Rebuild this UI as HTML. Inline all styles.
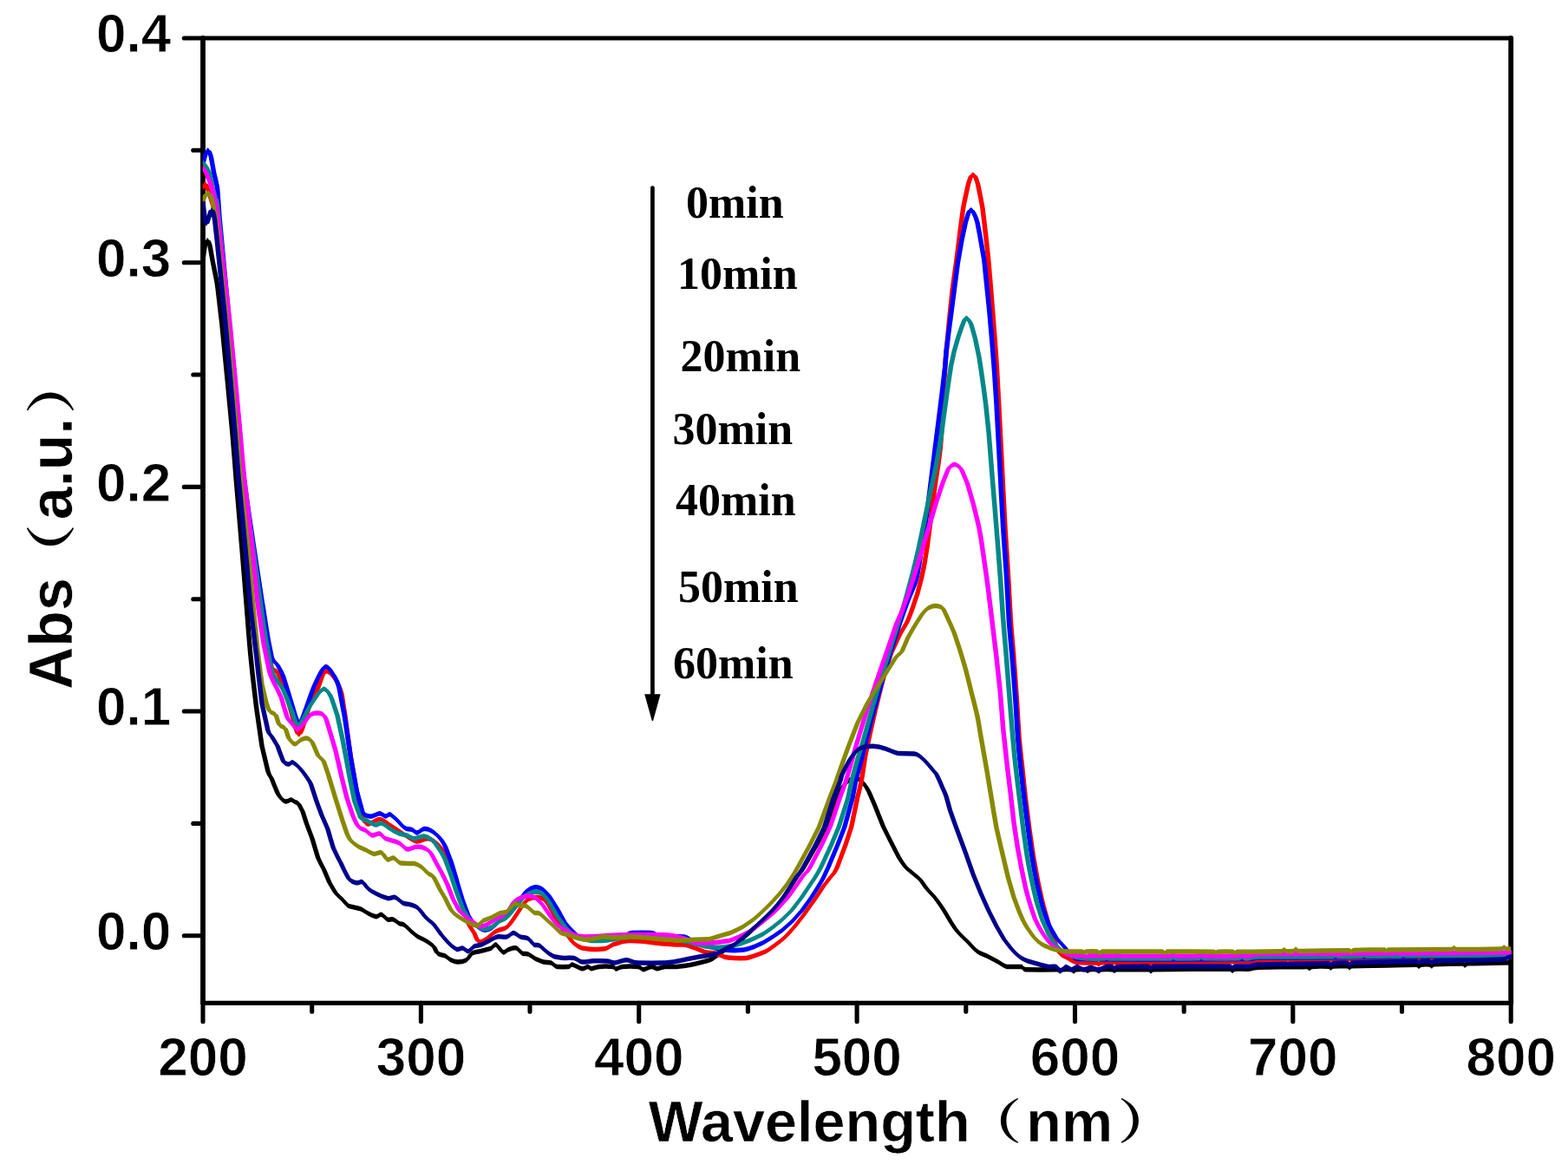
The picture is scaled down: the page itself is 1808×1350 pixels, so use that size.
<!DOCTYPE html>
<html lang="en">
<head>
<meta charset="utf-8">
<title>UV-Vis absorption spectra</title>
<style>
html,body{margin:0;padding:0;background:#fff;}
body{width:1808px;height:1350px;overflow:hidden;}
svg{display:block;}
text{fill:#000;}
.tick{font-family:"Liberation Sans",sans-serif;font-weight:bold;font-size:62px;stroke:#fff;stroke-width:0.8px;}
.title{font-family:"Liberation Sans",sans-serif;font-weight:bold;font-size:66.5px;stroke:#fff;stroke-width:0.6px;}
.vtitle{font-family:"Liberation Sans",sans-serif;font-weight:bold;font-size:68.2px;stroke:#fff;stroke-width:0.6px;}
.paren{font-family:"Liberation Serif","Noto Serif CJK SC",serif;font-weight:bold;}
.leg{font-family:"Liberation Serif",serif;font-weight:bold;font-size:52px;}
.c{fill:none;stroke-width:0.275;stroke-linejoin:round;stroke-linecap:round;}
.ax{stroke:#000;stroke-width:5.8;stroke-linecap:round;fill:none;}
.tk{stroke-width:5.1;}
</style>
</head>
<body>
<svg width="1808" height="1350" viewBox="0 0 1808 1350">
<rect x="0" y="0" width="1808" height="1350" fill="#fff"/>
<defs><clipPath id="plotclip"><rect x="233.7" y="44" width="1509.1" height="1112.3"/></clipPath></defs>
<g class="ax">
<path d="M234 44 V1156.3 M1742.2 44 V1156.3" stroke-width="5.8"/>
<path d="M234 44 H1742.2 M234 1156.3 H1742.2" stroke-width="5.2"/>
<line class="tk" x1="234" y1="1078.7" x2="212.3" y2="1078.7"/>
<line class="tk" x1="234" y1="949.4" x2="222.8" y2="949.4"/>
<line class="tk" x1="234" y1="820.0" x2="212.3" y2="820.0"/>
<line class="tk" x1="234" y1="690.7" x2="222.8" y2="690.7"/>
<line class="tk" x1="234" y1="561.4" x2="212.3" y2="561.4"/>
<line class="tk" x1="234" y1="432.0" x2="222.8" y2="432.0"/>
<line class="tk" x1="234" y1="302.7" x2="212.3" y2="302.7"/>
<line class="tk" x1="234" y1="173.3" x2="222.8" y2="173.3"/>
<line class="tk" x1="234" y1="44.0" x2="212.3" y2="44.0"/>
<line class="tk" x1="234.0" y1="1156.3" x2="234.0" y2="1177.7"/>
<line class="tk" x1="359.7" y1="1156.3" x2="359.7" y2="1166.2"/>
<line class="tk" x1="485.4" y1="1156.3" x2="485.4" y2="1177.7"/>
<line class="tk" x1="611.0" y1="1156.3" x2="611.0" y2="1166.2"/>
<line class="tk" x1="736.7" y1="1156.3" x2="736.7" y2="1177.7"/>
<line class="tk" x1="862.4" y1="1156.3" x2="862.4" y2="1166.2"/>
<line class="tk" x1="988.1" y1="1156.3" x2="988.1" y2="1177.7"/>
<line class="tk" x1="1113.8" y1="1156.3" x2="1113.8" y2="1166.2"/>
<line class="tk" x1="1239.5" y1="1156.3" x2="1239.5" y2="1177.7"/>
<line class="tk" x1="1365.2" y1="1156.3" x2="1365.2" y2="1166.2"/>
<line class="tk" x1="1490.8" y1="1156.3" x2="1490.8" y2="1177.7"/>
<line class="tk" x1="1616.5" y1="1156.3" x2="1616.5" y2="1166.2"/>
<line class="tk" x1="1742.2" y1="1156.3" x2="1742.2" y2="1177.7"/>
</g>
<g clip-path="url(#plotclip)">
<g stroke="#000000">
<path class="c" transform="scale(20 1)" d="M11.7 300C11.717 297.5 11.758 288.83 11.8 285C11.842 281.17 11.9 277.33 11.95 277C12 276.67 12.05 279.17 12.1 283C12.15 286.83 12.183 293 12.25 300C12.317 307 12.41 312.83 12.5 325C12.59 337.17 12.64 343.83 12.79 373C12.94 402.17 13.265 470.5 13.4 500C13.535 529.5 13.508 527.83 13.6 550C13.692 572.17 13.847 608 13.95 633C14.053 658 14.138 679.57 14.22 700C14.302 720.43 14.352 736.33 14.445 755.6C14.538 774.87 14.671 798.2 14.78 815.6C14.889 833 14.989 847.77 15.1 860C15.211 872.23 15.351 882.7 15.445 889C15.539 895.3 15.591 894.47 15.665 897.8C15.739 901.13 15.818 905.67 15.89 909C15.963 912.33 16.007 915.3 16.1 917.8C16.193 920.3 16.337 923.3 16.45 924C16.563 924.7 16.688 921.93 16.78 922C16.872 922.07 16.927 923.62 17 924.4C17.073 925.18 17.145 924.83 17.22 926.7C17.295 928.57 17.376 931.88 17.45 935.6C17.524 939.32 17.573 943.82 17.665 949C17.757 954.18 17.888 960.03 18 966.7C18.112 973.37 18.224 983.12 18.335 989C18.446 994.88 18.554 997.2 18.665 1002C18.776 1006.8 18.888 1013.3 19 1017.8C19.112 1022.3 19.205 1025.67 19.335 1029C19.465 1032.33 19.653 1035.23 19.78 1037.8C19.908 1040.37 19.933 1042.73 20.1 1044.4C20.267 1046.07 20.593 1046.37 20.78 1047.8C20.967 1049.23 21.073 1051.52 21.22 1053C21.367 1054.48 21.535 1056.47 21.665 1056.7C21.795 1056.93 21.888 1053.85 22 1054.4C22.112 1054.95 22.224 1059.07 22.335 1060C22.446 1060.93 22.554 1059.27 22.665 1060C22.776 1060.73 22.888 1063.28 23 1064.4C23.112 1065.52 23.224 1065.27 23.335 1066.7C23.446 1068.13 23.538 1070.78 23.665 1073C23.793 1075.22 23.953 1078.1 24.1 1080C24.248 1081.9 24.4 1082.57 24.55 1084.4C24.7 1086.23 24.888 1088.57 25 1091C25.112 1093.43 25.109 1097.17 25.22 1099C25.331 1100.83 25.535 1100.72 25.665 1102C25.795 1103.28 25.879 1105.53 26 1106.7C26.121 1107.87 26.242 1109 26.39 1109C26.538 1109 26.752 1108.37 26.89 1106.7C27.028 1105.03 27.091 1100.67 27.22 1099C27.349 1097.33 27.518 1097.47 27.665 1096.7C27.812 1095.93 27.988 1095.02 28.1 1094.4C28.212 1093.78 28.252 1093.9 28.335 1093C28.418 1092.1 28.489 1088.2 28.6 1089C28.711 1089.8 28.877 1096.9 29 1097.8C29.123 1098.7 29.205 1095.2 29.335 1094.4C29.465 1093.6 29.653 1092.23 29.78 1093C29.907 1093.77 29.988 1097.83 30.1 1099C30.212 1100.17 30.318 1098.9 30.45 1100C30.582 1101.1 30.742 1104.1 30.89 1105.6C31.038 1107.1 31.187 1108.27 31.335 1109C31.483 1109.73 31.653 1109.1 31.78 1110C31.907 1110.9 31.933 1113.67 32.1 1114.4C32.267 1115.13 32.63 1114.8 32.78 1114.4C32.93 1114 32.872 1111.62 33 1112C33.128 1112.38 33.402 1116.3 33.55 1116.7C33.698 1117.1 33.798 1114.4 33.89 1114.4C33.982 1114.4 33.99 1116.7 34.1 1116.7C34.21 1116.7 34.344 1114.78 34.55 1114.4C34.756 1114.02 35.177 1113.97 35.335 1114.4C35.493 1114.83 35.407 1117 35.5 1117C35.593 1117 35.677 1114.83 35.89 1114.4C36.103 1113.97 36.578 1113.83 36.78 1114.4C36.982 1114.97 36.972 1117.8 37.1 1117.8C37.228 1117.8 37.418 1114.58 37.55 1114.4C37.682 1114.22 37.759 1116.7 37.89 1116.7C38.021 1116.7 38.15 1114.78 38.335 1114.4C38.52 1114.02 38.75 1114.77 39 1114.4C39.25 1114.03 39.558 1113.22 39.835 1112.2C40.113 1111.18 40.453 1109.5 40.665 1108.3C40.877 1107.1 40.924 1107.13 41.11 1105C41.296 1102.87 41.576 1098 41.78 1095.5C41.984 1093 42.15 1092.42 42.335 1090C42.52 1087.58 42.705 1084.17 42.89 1081C43.075 1077.83 43.26 1074.33 43.445 1071C43.63 1067.67 43.815 1064.5 44 1061C44.185 1057.5 44.37 1054.07 44.555 1050C44.74 1045.93 44.943 1041.07 45.11 1036.6C45.277 1032.13 45.416 1027.47 45.555 1023.2C45.694 1018.93 45.808 1015.03 45.945 1011C46.082 1006.97 46.095 1008.62 46.375 999C46.655 989.38 47.317 966.3 47.625 953.3C47.933 940.3 48.071 928.55 48.225 921C48.379 913.45 48.446 911.33 48.55 908C48.654 904.67 48.75 902.67 48.85 901C48.95 899.33 49.046 898.5 49.15 898C49.254 897.5 49.37 897.17 49.475 898C49.58 898.83 49.676 900.5 49.78 903C49.884 905.5 49.976 908 50.1 913C50.224 918 50.388 926.33 50.525 933C50.663 939.67 50.783 946.67 50.925 953C51.067 959.33 51.225 965.08 51.375 971C51.525 976.92 51.675 983.5 51.825 988.5C51.975 993.5 52.079 996.92 52.275 1001C52.471 1005.08 52.804 1009 53 1013C53.196 1017 53.292 1021.17 53.45 1025C53.608 1028.83 53.783 1031.75 53.95 1036C54.117 1040.25 54.3 1045.83 54.45 1050.5C54.6 1055.17 54.722 1060.02 54.85 1064C54.978 1067.98 55.065 1070.8 55.22 1074.4C55.375 1078 55.594 1081.88 55.78 1085.6C55.966 1089.32 56.15 1093.97 56.335 1096.7C56.52 1099.43 56.688 1099.95 56.89 1102C57.093 1104.05 57.357 1106.93 57.55 1109C57.743 1111.07 57.827 1113.5 58.05 1114.4C58.273 1115.3 58.715 1113.83 58.89 1114.4C59.065 1114.97 58.89 1117.23 59.1 1117.8C59.443 1118.37 60.617 1117.47 60.95 1117.8C61.1 1118.13 61.05 1119.8 61.1 1119.8C61.15 1119.8 61.142 1118.13 61.25 1117.8C61.358 1117.47 61.642 1117.47 61.75 1117.8C61.858 1118.13 61.85 1119.8 61.9 1119.8C61.95 1119.8 61.942 1118.13 62.05 1117.8C62.158 1117.47 62.442 1117.55 62.55 1117.8C62.658 1118.05 62.65 1119.3 62.7 1119.3C62.75 1119.3 62.767 1118.05 62.85 1117.8C62.933 1117.55 63.117 1117.47 63.2 1117.8C63.283 1118.13 63.3 1119.8 63.35 1119.8C63.4 1119.8 63.375 1118.13 63.5 1117.8C63.625 1117.47 63.975 1117.55 64.1 1117.8C64.225 1118.05 64.2 1119.3 64.25 1119.3C64.3 1119.3 64.275 1118.05 64.4 1117.8C64.525 1117.55 64.7 1117.82 65 1117.8C65.3 1117.78 65.975 1117.38 66.2 1117.7C66.35 1118.01 66.3 1119.69 66.35 1119.68C66.4 1119.68 66.35 1118.07 66.5 1117.67C67.258 1117.27 70.142 1117.03 70.9 1117.29C71.05 1117.56 71 1119.29 71.05 1119.28C71.1 1119.28 71.067 1117.61 71.2 1117.27C71.333 1116.92 71.717 1117.22 71.85 1117.21C71.983 1117.2 71.95 1117.29 72 1117.2C72.05 1117.11 72.05 1117.03 72.15 1116.7C72.25 1116.37 72.15 1115.53 72.6 1115.2C73.075 1114.87 74.542 1114.8 75 1114.7C75.35 1114.6 75.267 1114.28 75.35 1114.58C75.433 1114.89 75.45 1116.55 75.5 1116.53C75.55 1116.51 75.5 1114.87 75.65 1114.48C75.83 1114.08 76.4 1113.89 76.58 1114.16C76.73 1114.43 76.68 1116.13 76.73 1116.11C76.78 1116.09 76.73 1114.45 76.88 1114.06C77.033 1113.68 77.497 1113.52 77.65 1113.8C77.8 1114.08 77.75 1115.77 77.8 1115.75C77.85 1115.73 77.8 1114.16 77.95 1113.7C78.317 1113.24 79.383 1113.24 80 1113C80.617 1112.76 81.35 1112.07 81.65 1112.27C81.8 1112.48 81.75 1114.23 81.8 1114.21C81.85 1114.19 81.85 1112.52 81.95 1112.14C82.05 1111.76 82.3 1111.65 82.4 1111.94C82.5 1112.23 82.5 1113.9 82.55 1113.88C82.6 1113.86 82.55 1112.27 82.7 1111.81C82.992 1111.35 84.008 1110.9 84.3 1111.11C84.45 1111.31 84.4 1113.06 84.45 1113.04C84.5 1113.02 84.508 1111.35 84.6 1110.98C84.692 1110.6 84.6 1111.01 85 1110.8C85.425 1110.59 86.792 1109.88 87.15 1109.7"/>
<path class="c" transform="scale(1 20)" d="M234 15C234.33 14.875 235.17 14.442 236 14.25C236.83 14.058 238 13.867 239 13.85C240 13.833 241 13.958 242 14.15C243 14.342 243.67 14.65 245 15C246.33 15.35 248.2 15.642 250 16.25C251.8 16.858 252.8 17.192 255.8 18.65C258.8 20.108 265.3 23.525 268 25C270.7 26.475 270.17 26.392 272 27.5C273.83 28.608 276.93 30.4 279 31.65C281.07 32.9 282.75 33.978 284.4 35C286.05 36.022 287.03 36.817 288.9 37.78C290.77 38.743 293.42 39.91 295.6 40.78C297.78 41.65 299.78 42.388 302 43C304.22 43.612 307.02 44.135 308.9 44.45C310.78 44.765 311.82 44.723 313.3 44.89C314.78 45.057 316.35 45.283 317.8 45.45C319.25 45.617 320.13 45.765 322 45.89C323.87 46.015 326.73 46.165 329 46.2C331.27 46.235 333.77 46.097 335.6 46.1C337.43 46.103 338.53 46.181 340 46.22C341.47 46.259 342.9 46.242 344.4 46.335C345.9 46.428 347.52 46.594 349 46.78C350.48 46.966 351.47 47.191 353.3 47.45C355.13 47.709 357.77 48.002 360 48.335C362.23 48.668 364.48 49.156 366.7 49.45C368.92 49.744 371.08 49.86 373.3 50.1C375.52 50.34 377.77 50.665 380 50.89C382.23 51.115 384.1 51.283 386.7 51.45C389.3 51.617 393.05 51.762 395.6 51.89C398.15 52.018 398.67 52.137 402 52.22C405.33 52.303 411.87 52.318 415.6 52.39C419.33 52.462 421.45 52.576 424.4 52.65C427.35 52.724 430.7 52.823 433.3 52.835C435.9 52.847 437.77 52.693 440 52.72C442.23 52.748 444.48 52.953 446.7 53C448.92 53.047 451.08 52.963 453.3 53C455.52 53.037 457.77 53.164 460 53.22C462.23 53.276 464.48 53.263 466.7 53.335C468.92 53.407 470.75 53.539 473.3 53.65C475.85 53.761 479.05 53.905 482 54C484.95 54.095 488 54.128 491 54.22C494 54.312 497.77 54.428 500 54.55C502.23 54.672 502.18 54.858 504.4 54.95C506.62 55.042 510.7 55.036 513.3 55.1C515.9 55.164 517.58 55.277 520 55.335C522.42 55.393 524.83 55.45 527.8 55.45C530.77 55.45 535.03 55.418 537.8 55.335C540.57 55.252 541.82 55.033 544.4 54.95C546.98 54.867 550.37 54.873 553.3 54.835C556.23 54.797 559.77 54.751 562 54.72C564.23 54.689 565.03 54.695 566.7 54.65C568.37 54.605 569.78 54.41 572 54.45C574.22 54.49 577.55 54.845 580 54.89C582.45 54.935 584.1 54.76 586.7 54.72C589.3 54.68 593.05 54.612 595.6 54.65C598.15 54.688 599.77 54.892 602 54.95C604.23 55.008 606.37 54.945 609 55C611.63 55.055 614.85 55.205 617.8 55.28C620.75 55.355 623.73 55.413 626.7 55.45C629.67 55.487 633.05 55.455 635.6 55.5C638.15 55.545 638.67 55.683 642 55.72C645.33 55.757 652.6 55.74 655.6 55.72C658.6 55.7 657.43 55.581 660 55.6C662.57 55.619 668.03 55.815 671 55.835C673.97 55.855 675.97 55.72 677.8 55.72C679.63 55.72 679.8 55.835 682 55.835C684.2 55.835 686.88 55.739 691 55.72C695.12 55.701 703.53 55.698 706.7 55.72C709.87 55.742 708.15 55.85 710 55.85C711.85 55.85 713.53 55.742 717.8 55.72C722.07 55.698 731.57 55.692 735.6 55.72C739.63 55.748 739.43 55.89 742 55.89C744.57 55.89 748.37 55.729 751 55.72C753.63 55.711 755.18 55.835 757.8 55.835C760.42 55.835 763 55.739 766.7 55.72C770.4 55.701 775 55.738 780 55.72C785 55.702 791.15 55.661 796.7 55.61C802.25 55.559 809.05 55.475 813.3 55.415C817.55 55.355 818.48 55.357 822.2 55.25C825.92 55.143 831.52 54.9 835.6 54.775C839.68 54.65 843 54.621 846.7 54.5C850.4 54.379 854.1 54.208 857.8 54.05C861.5 53.892 865.2 53.717 868.9 53.55C872.6 53.383 876.3 53.225 880 53.05C883.7 52.875 887.4 52.703 891.1 52.5C894.8 52.297 898.87 52.053 902.2 51.83C905.53 51.607 908.32 51.373 911.1 51.16C913.88 50.947 916.17 50.752 918.9 50.55C921.63 50.348 921.9 50.431 927.5 49.95C933.1 49.469 946.33 48.315 952.5 47.665C958.67 47.015 961.42 46.428 964.5 46.05C967.58 45.673 968.92 45.567 971 45.4C973.08 45.233 975 45.133 977 45.05C979 44.967 980.92 44.925 983 44.9C985.08 44.875 987.4 44.858 989.5 44.9C991.6 44.942 993.52 45.025 995.6 45.15C997.68 45.275 999.52 45.4 1002 45.65C1004.48 45.9 1007.75 46.317 1010.5 46.65C1013.25 46.983 1015.67 47.333 1018.5 47.65C1021.33 47.967 1024.5 48.254 1027.5 48.55C1030.5 48.846 1033.5 49.175 1036.5 49.425C1039.5 49.675 1041.58 49.846 1045.5 50.05C1049.42 50.254 1056.08 50.45 1060 50.65C1063.92 50.85 1065.83 51.058 1069 51.25C1072.17 51.442 1075.67 51.588 1079 51.8C1082.33 52.013 1086 52.292 1089 52.525C1092 52.758 1094.43 53.001 1097 53.2C1099.57 53.399 1101.3 53.54 1104.4 53.72C1107.5 53.9 1111.88 54.094 1115.6 54.28C1119.32 54.466 1123 54.698 1126.7 54.835C1130.4 54.972 1133.75 54.998 1137.8 55.1C1141.85 55.203 1147.13 55.347 1151 55.45C1154.87 55.553 1156.53 55.675 1161 55.72C1165.47 55.765 1174.3 55.692 1177.8 55.72C1181.3 55.748 1177.8 55.862 1182 55.89C1188.87 55.918 1212.33 55.873 1219 55.89C1222 55.907 1221 55.99 1222 55.99C1223 55.99 1222.83 55.907 1225 55.89C1227.17 55.873 1232.83 55.873 1235 55.89C1237.17 55.907 1237 55.99 1238 55.99C1239 55.99 1238.83 55.907 1241 55.89C1243.17 55.873 1248.83 55.877 1251 55.89C1253.17 55.903 1253 55.965 1254 55.965C1255 55.965 1255.33 55.903 1257 55.89C1258.67 55.877 1262.33 55.873 1264 55.89C1265.67 55.907 1266 55.99 1267 55.99C1268 55.99 1267.5 55.907 1270 55.89C1272.5 55.873 1279.5 55.877 1282 55.89C1284.5 55.903 1284 55.965 1285 55.965C1286 55.965 1285.5 55.903 1288 55.89C1290.5 55.877 1294 55.891 1300 55.89C1306 55.889 1319.5 55.869 1324 55.885C1327 55.901 1326 55.984 1327 55.984C1328 55.984 1327 55.903 1330 55.884C1345.17 55.864 1402.83 55.851 1418 55.865C1421 55.878 1420 55.964 1421 55.964C1422 55.964 1421.33 55.881 1424 55.863C1426.67 55.846 1434.33 55.861 1437 55.861C1439.67 55.86 1439 55.864 1440 55.86C1441 55.856 1441 55.852 1443 55.835C1445 55.818 1443 55.777 1452 55.76C1461.5 55.743 1490.83 55.74 1500 55.735C1507 55.73 1505.33 55.714 1507 55.729C1508.67 55.744 1509 55.827 1510 55.827C1511 55.826 1510 55.744 1513 55.724C1516.6 55.704 1528 55.695 1531.6 55.708C1534.6 55.722 1533.6 55.806 1534.6 55.806C1535.6 55.805 1534.6 55.722 1537.6 55.703C1540.67 55.684 1549.93 55.676 1553 55.69C1556 55.704 1555 55.788 1556 55.787C1557 55.787 1556 55.708 1559 55.685C1566.33 55.662 1587.67 55.662 1600 55.65C1612.33 55.638 1627 55.604 1633 55.614C1636 55.624 1635 55.712 1636 55.71C1637 55.709 1637 55.626 1639 55.607C1641 55.588 1646 55.583 1648 55.597C1650 55.612 1650 55.695 1651 55.694C1652 55.693 1651 55.614 1654 55.591C1659.83 55.568 1680.17 55.545 1686 55.555C1689 55.566 1688 55.653 1689 55.652C1690 55.651 1690.17 55.567 1692 55.549C1693.83 55.53 1692 55.551 1700 55.54C1708.5 55.529 1735.83 55.494 1743 55.485"/>
</g>
<g stroke="#ff0000">
<path class="c" transform="scale(20 1)" d="M11.7 217C11.721 216.13 11.783 211.97 11.825 211.8C11.867 211.63 11.908 213.97 11.95 216C11.992 218.03 12.025 220.83 12.075 224C12.125 227.17 12.196 231.5 12.25 235C12.304 238.5 12.35 241.5 12.4 245C12.45 248.5 12.425 234.67 12.55 256C12.675 277.33 12.95 332.33 13.15 373C13.35 413.67 13.608 470.5 13.75 500C13.892 529.5 13.858 527.83 14 550C14.142 572.17 14.429 609.67 14.6 633C14.771 656.33 14.942 678.83 15.025 690C15.1 701.17 15.038 691.67 15.1 700C15.163 708.33 15.308 728.5 15.4 740C15.492 751.5 15.55 763.17 15.65 769C15.75 774.83 15.886 771.5 16 775C16.114 778.5 16.205 782.5 16.335 790C16.465 797.5 16.633 810.55 16.78 820C16.928 829.45 17.073 845.87 17.22 846.7C17.367 847.53 17.553 830.95 17.665 825C17.777 819.05 17.778 816.33 17.89 811C18.002 805.67 18.197 799.1 18.335 793C18.473 786.9 18.573 776.57 18.72 774.4C18.867 772.23 19.062 776.1 19.22 780C19.377 783.9 19.553 790.4 19.665 797.8C19.777 805.2 19.798 811.87 19.89 824.4C19.983 836.93 20.11 858.57 20.22 873C20.33 887.43 20.438 899.83 20.55 911C20.662 922.17 20.782 933.5 20.89 940C20.998 946.5 21.033 949.27 21.2 950C21.367 950.73 21.665 944.07 21.89 944.4C22.115 944.73 22.328 949.23 22.55 952C22.772 954.77 22.978 958 23.22 961C23.462 964 23.759 969.05 24 970C24.241 970.95 24.462 966.2 24.665 966.7C24.868 967.2 25.053 969.95 25.22 973C25.387 976.05 25.535 980.5 25.665 985C25.795 989.5 25.888 993.83 26 1000C26.112 1006.17 26.224 1014.5 26.335 1022C26.446 1029.5 26.554 1037.93 26.665 1045C26.776 1052.07 26.888 1059.3 27 1064.4C27.112 1069.5 27.235 1072.07 27.335 1075.6C27.435 1079.13 27.489 1084.37 27.6 1085.6C27.711 1086.83 27.858 1084.67 28 1083C28.142 1081.33 28.32 1077.43 28.45 1075.6C28.58 1073.77 28.652 1073.1 28.78 1072C28.908 1070.9 29.073 1071.37 29.22 1069C29.367 1066.63 29.518 1061.9 29.665 1057.8C29.812 1053.7 29.969 1047.92 30.1 1044.4C30.231 1040.88 30.318 1038.37 30.45 1036.7C30.582 1035.03 30.748 1034.52 30.89 1034.4C31.032 1034.28 31.173 1034.4 31.3 1036C31.427 1037.6 31.533 1040.5 31.65 1044C31.767 1047.5 31.886 1052.83 32 1057C32.114 1061.17 32.205 1065.17 32.335 1069C32.465 1072.83 32.653 1076.87 32.78 1080C32.907 1083.13 32.972 1085.63 33.1 1087.8C33.228 1089.97 33.363 1091.9 33.55 1093C33.737 1094.1 33.997 1094.27 34.22 1094.4C34.443 1094.53 34.704 1094.7 34.89 1093.8C35.076 1092.9 35.225 1090 35.335 1089C35.445 1088 35.458 1088.37 35.55 1087.8C35.643 1087.23 35.759 1086.17 35.89 1085.6C36.021 1085.03 36.113 1084.4 36.335 1084.4C36.557 1084.4 36.926 1085.03 37.22 1085.6C37.514 1086.17 37.803 1087.25 38.1 1087.8C38.397 1088.35 38.758 1088.63 39 1088.9C39.243 1089.17 39.37 1088.67 39.555 1089.4C39.74 1090.13 39.925 1091.9 40.11 1093.3C40.295 1094.7 40.48 1096.87 40.665 1097.8C40.85 1098.73 41.034 1097.98 41.22 1098.9C41.406 1099.82 41.594 1102.38 41.78 1103.3C41.966 1104.22 42.123 1104.22 42.335 1104.4C42.548 1104.58 42.843 1104.95 43.055 1104.4C43.268 1103.85 43.425 1102.38 43.61 1101.1C43.795 1099.82 43.98 1098.73 44.165 1096.7C44.35 1094.67 44.534 1091.68 44.72 1088.9C44.906 1086.12 45.094 1083.52 45.28 1080C45.466 1076.48 45.65 1072.25 45.835 1067.8C46.02 1063.35 46.205 1058.3 46.39 1053.3C46.575 1048.3 46.76 1043.17 46.945 1037.8C47.13 1032.43 47.343 1025.55 47.5 1021.1C47.657 1016.65 47.76 1014.78 47.89 1011.1C48.02 1007.42 48.081 1008.63 48.28 999C48.479 989.37 48.893 966.47 49.085 953.3C49.277 940.13 49.333 928.88 49.43 920C49.527 911.12 49.588 908.17 49.665 900C49.742 891.83 49.759 884.33 49.89 871C50.021 857.67 50.283 834.43 50.45 820C50.617 805.57 50.742 795.13 50.89 784.4C51.038 773.67 51.168 764.5 51.335 755.6C51.502 746.7 51.733 737.3 51.89 731C52.047 724.7 52.17 722.23 52.28 717.8C52.39 713.37 52.448 709.97 52.55 704.4C52.652 698.83 52.778 692.17 52.89 684.4C53.002 676.63 53.127 666.7 53.22 657.8C53.313 648.9 53.376 641 53.45 631C53.524 621 53.592 609.3 53.665 597.8C53.738 586.3 53.797 575.7 53.89 562C53.983 548.3 54.143 530.93 54.22 515.6C54.297 500.27 54.303 485.93 54.35 470C54.397 454.07 54.438 436.67 54.5 420C54.562 403.33 54.654 384.67 54.725 370C54.796 355.33 54.854 343.77 54.925 332C54.996 320.23 55.075 310.9 55.15 299.4C55.225 287.9 55.311 272.97 55.375 263C55.439 253.03 55.483 246.03 55.535 239.6C55.588 233.17 55.642 229 55.69 224.4C55.738 219.8 55.782 215.32 55.825 212C55.868 208.68 55.904 206.25 55.95 204.5C55.996 202.75 56.05 201.5 56.1 201.5C56.15 201.5 56.204 202.75 56.25 204.5C56.296 206.25 56.333 208.68 56.375 212C56.417 215.32 56.455 219.8 56.5 224.4C56.545 229 56.591 232 56.645 239.6C56.699 247.2 56.768 260.03 56.825 270C56.882 279.97 56.927 286.9 56.985 299.4C57.043 311.9 57.114 329.9 57.175 345C57.236 360.1 57.3 376.57 57.35 390C57.4 403.43 57.433 411.93 57.475 425.6C57.517 439.27 57.554 454.43 57.6 472C57.646 489.57 57.692 508.17 57.75 531C57.808 553.83 57.888 586.83 57.95 609C58.013 631.17 58.071 645.83 58.125 664C58.179 682.17 58.225 703.17 58.275 718C58.325 732.83 58.367 737.83 58.425 753C58.483 768.17 58.571 792.83 58.625 809C58.679 825.17 58.7 837.67 58.75 850C58.8 862.33 58.863 871.17 58.925 883C58.988 894.83 59.054 908.72 59.125 921C59.196 933.28 59.275 945.57 59.35 956.7C59.425 967.83 59.496 978.08 59.575 987.8C59.654 997.52 59.738 1006.3 59.825 1015C59.913 1023.7 59.996 1031.67 60.1 1040C60.204 1048.33 60.333 1057.5 60.45 1065C60.567 1072.5 60.692 1079.33 60.8 1085C60.908 1090.67 60.975 1095.77 61.1 1099C61.225 1102.23 61.4 1102.73 61.55 1104.4C61.7 1106.07 61.814 1108.07 62 1109C62.186 1109.93 62.465 1109.85 62.665 1110C62.865 1110.15 63.086 1109.58 63.2 1109.89C63.314 1110.19 63.3 1111.86 63.35 1111.85C63.4 1111.84 63.35 1110.21 63.5 1109.82C63.775 1109.43 64.55 1109.58 65 1109.5C65.45 1109.42 65.975 1109.17 66.2 1109.35C66.35 1109.52 66.3 1110.53 66.35 1110.53C66.4 1110.52 66.35 1109.63 66.5 1109.31C67.442 1108.99 70.983 1108.98 72 1108.6C72.6 1108.22 72.25 1107.33 72.6 1107C72.95 1106.67 73.825 1106.89 74.1 1106.62C74.25 1106.36 74.2 1105.4 74.25 1105.39C74.3 1105.38 74.275 1106.38 74.4 1106.55C74.525 1106.72 74.425 1106.56 75 1106.4C75.575 1106.24 77.35 1105.49 77.85 1105.6C78 1105.71 77.95 1107.07 78 1107.06C78.05 1107.05 78 1105.86 78.15 1105.52C78.483 1105.17 79.3 1105.2 80 1105C80.7 1104.8 81.933 1104.21 82.35 1104.34C82.5 1104.48 82.45 1105.81 82.5 1105.8C82.55 1105.79 82.5 1104.73 82.65 1104.26C83.425 1103.79 86.4 1103.21 87.15 1103"/>
<path class="c" transform="scale(1 20)" d="M234 10.85C234.42 10.807 235.67 10.598 236.5 10.59C237.33 10.582 238.17 10.698 239 10.8C239.83 10.902 240.5 11.042 241.5 11.2C242.5 11.358 243.92 11.575 245 11.75C246.08 11.925 247 12.075 248 12.25C249 12.425 248.5 11.733 251 12.8C253.5 13.867 259 16.617 263 18.65C267 20.683 272.17 23.525 275 25C277.83 26.475 277.17 26.392 280 27.5C282.83 28.608 288.58 30.483 292 31.65C295.42 32.817 298.83 33.942 300.5 34.5C302 35.058 300.75 34.583 302 35C303.25 35.417 306.17 36.425 308 37C309.83 37.575 311 38.158 313 38.45C315 38.742 317.72 38.575 320 38.75C322.28 38.925 324.1 39.125 326.7 39.5C329.3 39.875 332.65 40.528 335.6 41C338.55 41.473 341.45 42.293 344.4 42.335C347.35 42.377 351.07 41.548 353.3 41.25C355.53 40.953 355.57 40.817 357.8 40.55C360.03 40.283 363.93 39.955 366.7 39.65C369.47 39.345 371.45 38.828 374.4 38.72C377.35 38.612 381.25 38.805 384.4 39C387.55 39.195 391.07 39.52 393.3 39.89C395.53 40.26 395.95 40.593 397.8 41.22C399.65 41.847 402.2 42.928 404.4 43.65C406.6 44.372 408.77 44.992 411 45.55C413.23 46.108 415.63 46.675 417.8 47C419.97 47.325 420.67 47.463 424 47.5C427.33 47.537 433.3 47.203 437.8 47.22C442.3 47.237 446.57 47.462 451 47.6C455.43 47.738 459.57 47.9 464.4 48.05C469.23 48.2 475.18 48.453 480 48.5C484.82 48.548 489.23 48.31 493.3 48.335C497.37 48.36 501.07 48.498 504.4 48.65C507.73 48.803 510.7 49.025 513.3 49.25C515.9 49.475 517.77 49.692 520 50C522.23 50.308 524.48 50.725 526.7 51.1C528.92 51.475 531.08 51.897 533.3 52.25C535.52 52.603 537.77 52.965 540 53.22C542.23 53.475 544.7 53.603 546.7 53.78C548.7 53.957 549.78 54.218 552 54.28C554.22 54.342 557.17 54.233 560 54.15C562.83 54.067 566.4 53.872 569 53.78C571.6 53.688 573.03 53.655 575.6 53.6C578.17 53.545 581.45 53.568 584.4 53.45C587.35 53.332 590.37 53.095 593.3 52.89C596.23 52.685 599.38 52.396 602 52.22C604.62 52.044 606.37 51.918 609 51.835C611.63 51.752 614.97 51.726 617.8 51.72C620.63 51.714 623.47 51.72 626 51.8C628.53 51.88 630.67 52.025 633 52.2C635.33 52.375 637.72 52.642 640 52.85C642.28 53.058 644.1 53.258 646.7 53.45C649.3 53.642 653.05 53.843 655.6 54C658.15 54.157 659.43 54.282 662 54.39C664.57 54.498 667.27 54.595 671 54.65C674.73 54.705 679.93 54.713 684.4 54.72C688.87 54.727 694.08 54.735 697.8 54.69C701.52 54.645 704.5 54.5 706.7 54.45C708.9 54.4 709.15 54.418 711 54.39C712.85 54.362 715.18 54.308 717.8 54.28C720.42 54.252 722.27 54.22 726.7 54.22C731.13 54.22 738.52 54.252 744.4 54.28C750.28 54.308 756.07 54.363 762 54.39C767.93 54.417 775.15 54.432 780 54.445C784.85 54.458 787.4 54.433 791.1 54.47C794.8 54.507 798.5 54.595 802.2 54.665C805.9 54.735 809.6 54.843 813.3 54.89C817 54.937 820.68 54.899 824.4 54.945C828.12 54.991 831.88 55.119 835.6 55.165C839.32 55.211 842.45 55.211 846.7 55.22C850.95 55.229 856.85 55.248 861.1 55.22C865.35 55.193 868.5 55.119 872.2 55.055C875.9 54.991 879.6 54.937 883.3 54.835C887 54.733 890.68 54.584 894.4 54.445C898.12 54.306 901.88 54.176 905.6 54C909.32 53.824 913 53.613 916.7 53.39C920.4 53.167 924.1 52.915 927.8 52.665C931.5 52.415 935.2 52.158 938.9 51.89C942.6 51.622 946.85 51.278 950 51.055C953.15 50.833 955.2 50.739 957.8 50.555C960.4 50.371 961.62 50.432 965.6 49.95C969.58 49.468 977.87 48.323 981.7 47.665C985.53 47.007 986.67 46.444 988.6 46C990.53 45.556 991.77 45.408 993.3 45C994.83 44.592 995.18 44.217 997.8 43.55C1000.42 42.883 1005.67 41.722 1009 41C1012.33 40.278 1014.85 39.757 1017.8 39.22C1020.75 38.683 1023.37 38.225 1026.7 37.78C1030.03 37.335 1034.65 36.865 1037.8 36.55C1040.95 36.235 1043.4 36.112 1045.6 35.89C1047.8 35.668 1048.97 35.498 1051 35.22C1053.03 34.942 1055.57 34.608 1057.8 34.22C1060.03 33.832 1062.53 33.335 1064.4 32.89C1066.27 32.445 1067.52 32.05 1069 31.55C1070.48 31.05 1071.83 30.465 1073.3 29.89C1074.77 29.315 1075.95 28.785 1077.8 28.1C1079.65 27.415 1082.87 26.547 1084.4 25.78C1085.93 25.013 1086.07 24.297 1087 23.5C1087.93 22.703 1088.75 21.833 1090 21C1091.25 20.167 1093.08 19.233 1094.5 18.5C1095.92 17.767 1097.08 17.188 1098.5 16.6C1099.92 16.012 1101.5 15.545 1103 14.97C1104.5 14.395 1106.22 13.648 1107.5 13.15C1108.78 12.652 1109.65 12.302 1110.7 11.98C1111.75 11.658 1112.83 11.45 1113.8 11.22C1114.77 10.99 1115.63 10.766 1116.5 10.6C1117.37 10.434 1118.08 10.312 1119 10.225C1119.92 10.138 1121 10.075 1122 10.075C1123 10.075 1124.08 10.138 1125 10.225C1125.92 10.312 1126.67 10.434 1127.5 10.6C1128.33 10.766 1129.1 10.99 1130 11.22C1130.9 11.45 1131.82 11.6 1132.9 11.98C1133.98 12.36 1135.37 13.002 1136.5 13.5C1137.63 13.998 1138.53 14.345 1139.7 14.97C1140.87 15.595 1142.28 16.495 1143.5 17.25C1144.72 18.005 1146 18.828 1147 19.5C1148 20.172 1148.67 20.597 1149.5 21.28C1150.33 21.963 1151.08 22.722 1152 23.6C1152.92 24.478 1153.83 25.408 1155 26.55C1156.17 27.692 1157.75 29.342 1159 30.45C1160.25 31.558 1161.42 32.292 1162.5 33.2C1163.58 34.108 1164.5 35.158 1165.5 35.9C1166.5 36.642 1167.33 36.892 1168.5 37.65C1169.67 38.408 1171.42 39.642 1172.5 40.45C1173.58 41.258 1174 41.883 1175 42.5C1176 43.117 1177.25 43.558 1178.5 44.15C1179.75 44.742 1181.08 45.436 1182.5 46.05C1183.92 46.664 1185.5 47.278 1187 47.835C1188.5 48.392 1189.92 48.904 1191.5 49.39C1193.08 49.876 1194.75 50.315 1196.5 50.75C1198.25 51.185 1199.92 51.583 1202 52C1204.08 52.417 1206.67 52.875 1209 53.25C1211.33 53.625 1213.83 53.967 1216 54.25C1218.17 54.533 1219.5 54.788 1222 54.95C1224.5 55.112 1228 55.137 1231 55.22C1234 55.303 1236.28 55.403 1240 55.45C1243.72 55.497 1249.3 55.493 1253.3 55.5C1257.3 55.507 1261.72 55.479 1264 55.494C1266.28 55.51 1266 55.593 1267 55.593C1268 55.592 1267 55.511 1270 55.491C1275.5 55.471 1291 55.479 1300 55.475C1309 55.471 1319.5 55.459 1324 55.467C1327 55.476 1326 55.527 1327 55.526C1328 55.526 1327 55.481 1330 55.465C1348.83 55.449 1419.67 55.449 1440 55.43C1452 55.411 1445 55.366 1452 55.35C1459 55.334 1476.5 55.345 1482 55.331C1485 55.318 1484 55.27 1485 55.269C1486 55.269 1485.5 55.319 1488 55.328C1490.5 55.336 1488.5 55.328 1500 55.32C1511.5 55.312 1547 55.275 1557 55.28C1560 55.286 1559 55.354 1560 55.353C1561 55.352 1560 55.293 1563 55.276C1569.67 55.259 1586 55.26 1600 55.25C1614 55.24 1638.67 55.21 1647 55.217C1650 55.224 1649 55.291 1650 55.29C1651 55.289 1650 55.236 1653 55.213C1668.5 55.19 1728 55.16 1743 55.15"/>
</g>
<g stroke="#0000ff">
<path class="c" transform="scale(20 1)" d="M11.7 188.5C11.717 187.25 11.768 183.17 11.8 181C11.832 178.83 11.861 176.78 11.89 175.5C11.919 174.22 11.946 173.38 11.975 173.3C12.004 173.22 12.032 173.63 12.065 175C12.098 176.37 12.129 177.33 12.175 181.5C12.221 185.67 12.283 194.32 12.34 200C12.398 205.68 12.468 207.27 12.52 215.6C12.572 223.93 12.533 223.77 12.65 250C12.768 276.23 13.029 331.33 13.225 373C13.421 414.67 13.688 470.5 13.825 500C13.963 529.5 13.913 527.83 14.05 550C14.188 572.17 14.478 609.67 14.65 633C14.822 656.33 14.994 678.83 15.08 690C15.165 701.17 15.112 693.33 15.165 700C15.218 706.67 15.317 720.37 15.4 730C15.483 739.63 15.565 751.68 15.665 757.8C15.765 763.92 15.888 763 16 766.7C16.112 770.4 16.205 772.97 16.335 780C16.465 787.03 16.633 800.02 16.78 808.9C16.928 817.78 17.073 832.18 17.22 833.3C17.367 834.42 17.517 822.63 17.665 815.6C17.813 808.57 17.934 798.88 18.11 791.1C18.286 783.32 18.535 771.12 18.72 768.9C18.905 766.68 19.081 773.73 19.22 777.8C19.359 781.87 19.443 784.78 19.555 793.3C19.667 801.82 19.779 815.57 19.89 828.9C20.001 842.23 20.109 859.6 20.22 873.3C20.331 887 20.443 900.72 20.555 911.1C20.667 921.48 20.798 930.78 20.89 935.6C20.983 940.42 21.018 939.1 21.11 940C21.203 940.9 21.315 941.37 21.445 941C21.575 940.63 21.761 937.8 21.89 937.8C22.019 937.8 22.118 940.82 22.22 941C22.322 941.18 22.388 938.13 22.5 938.9C22.612 939.67 22.751 943.02 22.89 945.6C23.029 948.18 23.187 952.55 23.335 954.4C23.483 956.25 23.661 955.77 23.78 956.7C23.899 957.63 23.939 960.18 24.05 960C24.161 959.82 24.305 955.93 24.445 955.6C24.585 955.27 24.742 956.33 24.89 958C25.038 959.67 25.206 962.67 25.335 965.6C25.464 968.53 25.554 971.03 25.665 975.6C25.776 980.17 25.888 986.33 26 993C26.112 999.67 26.224 1008.13 26.335 1015.6C26.446 1023.07 26.554 1031.13 26.665 1037.8C26.776 1044.47 26.87 1050.78 27 1055.6C27.13 1060.42 27.297 1063.97 27.445 1066.7C27.593 1069.43 27.742 1071.45 27.89 1072C28.038 1072.55 28.187 1071.67 28.335 1070C28.483 1068.33 28.633 1064.4 28.78 1062C28.927 1059.6 29.053 1058.93 29.22 1055.6C29.387 1052.27 29.594 1046.63 29.78 1042C29.966 1037.37 30.168 1030.97 30.335 1027.8C30.502 1024.63 30.633 1023.57 30.78 1023C30.927 1022.43 31.073 1022.73 31.22 1024.4C31.367 1026.07 31.518 1029.28 31.665 1033C31.812 1036.72 31.953 1041.7 32.1 1046.7C32.248 1051.7 32.4 1058.62 32.55 1063C32.7 1067.38 32.85 1070 33 1073C33.15 1076 33.302 1079.33 33.45 1081C33.598 1082.67 33.668 1082.83 33.89 1083C34.112 1083.17 34.484 1082.5 34.78 1082C35.076 1081.5 35.445 1080.7 35.665 1080C35.885 1079.3 35.969 1078.53 36.1 1077.8C36.231 1077.07 36.208 1075.97 36.45 1075.6C36.692 1075.23 37.275 1075.03 37.55 1075.6C37.825 1076.17 37.783 1078.27 38.1 1079C38.417 1079.73 39.152 1079.1 39.45 1080C39.748 1080.9 39.707 1082.9 39.89 1084.4C40.073 1085.9 40.328 1087.57 40.55 1089C40.772 1090.43 40.969 1091.9 41.22 1093C41.471 1094.1 41.777 1095.27 42.055 1095.6C42.333 1095.93 42.658 1095.65 42.89 1095C43.122 1094.35 43.26 1093.08 43.445 1091.7C43.63 1090.32 43.815 1088.65 44 1086.7C44.185 1084.75 44.37 1082.42 44.555 1080C44.74 1077.58 44.925 1075.17 45.11 1072.2C45.295 1069.23 45.48 1065.9 45.665 1062.2C45.85 1058.5 46.034 1054.63 46.22 1050C46.406 1045.37 46.594 1039.95 46.78 1034.4C46.966 1028.85 47.173 1022.43 47.335 1016.7C47.497 1010.97 47.523 1010.57 47.75 1000C47.977 989.43 48.462 966.63 48.695 953.3C48.928 939.97 49.043 928.88 49.15 920C49.257 911.12 49.249 907.4 49.335 900C49.421 892.6 49.517 887.1 49.665 875.6C49.812 864.1 50.039 844.77 50.22 831C50.401 817.23 50.57 805.67 50.75 793C50.93 780.33 51.11 767.53 51.3 755C51.49 742.47 51.718 728.13 51.89 717.8C52.062 707.47 52.187 700.8 52.335 693C52.483 685.2 52.669 678.17 52.78 671C52.891 663.83 52.927 658.5 53 650C53.073 641.5 53.145 630 53.22 620C53.295 610 53.376 600.67 53.45 590C53.524 579.33 53.592 567.67 53.665 556C53.738 544.33 53.817 531.55 53.89 520C53.963 508.45 54.026 498.53 54.1 486.7C54.174 474.87 54.268 460.12 54.335 449C54.402 437.88 54.464 427.23 54.5 420C54.536 412.77 54.503 413.93 54.55 405.6C54.597 397.27 54.705 381.48 54.78 370C54.855 358.52 54.927 347.87 55 336.7C55.073 325.53 55.145 313 55.22 303C55.295 293 55.376 284.42 55.45 276.7C55.524 268.98 55.602 261.82 55.665 256.7C55.727 251.58 55.773 248.45 55.825 246C55.877 243.55 55.926 242 55.98 242C56.034 242 56.088 243.55 56.15 246C56.212 248.45 56.279 250.87 56.35 256.7C56.421 262.53 56.511 273.88 56.575 281C56.639 288.12 56.693 293.45 56.735 299.4C56.777 305.35 56.773 306.43 56.825 316.7C56.877 326.97 56.975 344.72 57.05 361C57.125 377.28 57.208 396.9 57.275 414.4C57.342 431.9 57.392 446.57 57.45 466C57.508 485.43 57.561 507.17 57.625 531C57.689 554.83 57.768 586.83 57.835 609C57.902 631.17 57.968 645.83 58.025 664C58.082 682.17 58.123 703.17 58.175 718C58.227 732.83 58.273 737.83 58.335 753C58.398 768.17 58.493 792.83 58.55 809C58.607 825.17 58.627 837.67 58.675 850C58.723 862.33 58.773 871.17 58.835 883C58.898 894.83 58.976 908.72 59.05 921C59.124 933.28 59.205 945.57 59.28 956.7C59.355 967.83 59.417 977.42 59.5 987.8C59.583 998.18 59.68 1009.37 59.78 1019C59.88 1028.63 59.988 1037.83 60.1 1045.6C60.212 1053.37 60.318 1059.7 60.45 1065.6C60.582 1071.5 60.742 1076.77 60.89 1081C61.038 1085.23 61.187 1087.67 61.335 1091C61.483 1094.33 61.632 1098.57 61.78 1101C61.928 1103.43 61.78 1104.77 62.22 1105.6C62.757 1106.43 63.37 1106.02 65 1106C66.63 1105.98 70.733 1105.83 72 1105.5C72.6 1105.17 72.1 1104.25 72.6 1104C73.1 1103.75 73.767 1104.17 75 1104C76.233 1103.83 77.975 1103.5 80 1103C82.025 1102.5 85.958 1101.33 87.15 1101"/>
<path class="c" transform="scale(1 20)" d="M234 9.425C234.33 9.363 235.37 9.158 236 9.05C236.63 8.942 237.22 8.839 237.8 8.775C238.38 8.711 238.92 8.669 239.5 8.665C240.08 8.661 240.63 8.682 241.3 8.75C241.97 8.818 242.58 8.867 243.5 9.075C244.42 9.283 245.65 9.716 246.8 10C247.95 10.284 249.37 10.363 250.4 10.78C251.43 11.197 250.65 11.188 253 12.5C255.35 13.812 260.58 16.567 264.5 18.65C268.42 20.733 273.75 23.525 276.5 25C279.25 26.475 278.25 26.392 281 27.5C283.75 28.608 289.57 30.483 293 31.65C296.43 32.817 299.88 33.942 301.6 34.5C303.3 35.058 302.23 34.667 303.3 35C304.37 35.333 306.33 36.018 308 36.5C309.67 36.982 311.3 37.584 313.3 37.89C315.3 38.196 317.77 38.15 320 38.335C322.23 38.52 324.1 38.648 326.7 39C329.3 39.352 332.65 40.001 335.6 40.445C338.55 40.889 341.45 41.609 344.4 41.665C347.35 41.721 350.33 41.132 353.3 40.78C356.27 40.428 358.68 39.944 362.2 39.555C365.72 39.166 370.7 38.556 374.4 38.445C378.1 38.334 381.62 38.687 384.4 38.89C387.18 39.093 388.87 39.239 391.1 39.665C393.33 40.091 395.58 40.778 397.8 41.445C400.02 42.112 402.18 42.98 404.4 43.665C406.62 44.35 408.87 45.036 411.1 45.555C413.33 46.074 415.95 46.539 417.8 46.78C419.65 47.021 420.35 46.955 422.2 47C424.05 47.045 426.3 47.068 428.9 47.05C431.5 47.032 435.22 46.89 437.8 46.89C440.38 46.89 442.37 47.041 444.4 47.05C446.43 47.059 447.77 46.907 450 46.945C452.23 46.983 455.02 47.151 457.8 47.28C460.58 47.409 463.73 47.627 466.7 47.72C469.67 47.812 473.22 47.788 475.6 47.835C477.98 47.882 478.78 48.009 481 48C483.22 47.991 486.1 47.797 488.9 47.78C491.7 47.763 494.83 47.817 497.8 47.9C500.77 47.983 504.12 48.133 506.7 48.28C509.28 48.427 511.08 48.552 513.3 48.78C515.52 49.008 517.77 49.317 520 49.65C522.23 49.983 524.48 50.407 526.7 50.78C528.92 51.153 531.08 51.557 533.3 51.89C535.52 52.223 537.4 52.539 540 52.78C542.6 53.021 545.93 53.198 548.9 53.335C551.87 53.472 554.83 53.573 557.8 53.6C560.77 53.627 563.73 53.583 566.7 53.5C569.67 53.417 572.65 53.22 575.6 53.1C578.55 52.98 581.07 52.947 584.4 52.78C587.73 52.613 591.88 52.332 595.6 52.1C599.32 51.868 603.37 51.548 606.7 51.39C610.03 51.232 612.65 51.178 615.6 51.15C618.55 51.122 621.45 51.137 624.4 51.22C627.35 51.303 630.37 51.464 633.3 51.65C636.23 51.836 639.05 52.085 642 52.335C644.95 52.585 648 52.931 651 53.15C654 53.369 657 53.5 660 53.65C663 53.8 666.03 53.967 669 54.05C671.97 54.133 673.37 54.142 677.8 54.15C682.23 54.158 689.68 54.125 695.6 54.1C701.52 54.075 708.9 54.035 713.3 54C717.7 53.965 719.38 53.927 722 53.89C724.62 53.853 724.17 53.798 729 53.78C733.83 53.762 745.5 53.752 751 53.78C756.5 53.808 755.67 53.913 762 53.95C768.33 53.987 783.03 53.955 789 54C794.97 54.045 794.13 54.145 797.8 54.22C801.47 54.295 806.57 54.378 811 54.45C815.43 54.522 819.38 54.595 824.4 54.65C829.42 54.705 835.53 54.763 841.1 54.78C846.67 54.797 853.17 54.783 857.8 54.75C862.43 54.718 865.2 54.654 868.9 54.585C872.6 54.516 876.3 54.433 880 54.335C883.7 54.238 887.4 54.121 891.1 54C894.8 53.879 898.5 53.758 902.2 53.61C905.9 53.462 909.6 53.295 913.3 53.11C917 52.925 920.68 52.732 924.4 52.5C928.12 52.268 931.88 51.998 935.6 51.72C939.32 51.443 943.47 51.122 946.7 50.835C949.93 50.548 950.47 50.528 955 50C959.53 49.472 969.23 48.332 973.9 47.665C978.57 46.998 980.87 46.444 983 46C985.13 45.556 984.98 45.37 986.7 45C988.42 44.63 990.35 44.355 993.3 43.78C996.25 43.205 1000.78 42.238 1004.4 41.55C1008.02 40.862 1011.4 40.283 1015 39.65C1018.6 39.017 1022.2 38.377 1026 37.75C1029.8 37.123 1034.35 36.407 1037.8 35.89C1041.25 35.373 1043.73 35.04 1046.7 34.65C1049.67 34.26 1053.38 33.908 1055.6 33.55C1057.82 33.192 1058.53 32.925 1060 32.5C1061.47 32.075 1062.9 31.5 1064.4 31C1065.9 30.5 1067.52 30.033 1069 29.5C1070.48 28.967 1071.83 28.383 1073.3 27.8C1074.77 27.217 1076.35 26.578 1077.8 26C1079.25 25.422 1080.52 24.927 1082 24.335C1083.48 23.743 1085.37 23.006 1086.7 22.45C1088.03 21.894 1089.28 21.362 1090 21C1090.72 20.638 1090.07 20.697 1091 20.28C1091.93 19.863 1094.1 19.074 1095.6 18.5C1097.1 17.926 1098.53 17.393 1100 16.835C1101.47 16.277 1102.9 15.65 1104.4 15.15C1105.9 14.65 1107.52 14.221 1109 13.835C1110.48 13.449 1112.05 13.091 1113.3 12.835C1114.55 12.579 1115.45 12.422 1116.5 12.3C1117.55 12.178 1118.52 12.1 1119.6 12.1C1120.68 12.1 1121.77 12.178 1123 12.3C1124.23 12.422 1125.58 12.543 1127 12.835C1128.42 13.127 1130.22 13.694 1131.5 14.05C1132.78 14.406 1133.87 14.672 1134.7 14.97C1135.53 15.267 1135.45 15.322 1136.5 15.835C1137.55 16.348 1139.5 17.236 1141 18.05C1142.5 18.864 1144.17 19.845 1145.5 20.72C1146.83 21.595 1147.83 22.328 1149 23.3C1150.17 24.272 1151.22 25.358 1152.5 26.55C1153.78 27.742 1155.37 29.342 1156.7 30.45C1158.03 31.558 1159.37 32.292 1160.5 33.2C1161.63 34.108 1162.47 35.158 1163.5 35.9C1164.53 36.642 1165.45 36.892 1166.7 37.65C1167.95 38.408 1169.87 39.642 1171 40.45C1172.13 41.258 1172.55 41.883 1173.5 42.5C1174.45 43.117 1175.45 43.558 1176.7 44.15C1177.95 44.742 1179.52 45.436 1181 46.05C1182.48 46.664 1184.1 47.278 1185.6 47.835C1187.1 48.392 1188.33 48.871 1190 49.39C1191.67 49.909 1193.6 50.468 1195.6 50.95C1197.6 51.432 1199.77 51.892 1202 52.28C1204.23 52.668 1206.37 52.985 1209 53.28C1211.63 53.575 1214.85 53.838 1217.8 54.05C1220.75 54.262 1223.73 54.383 1226.7 54.55C1229.67 54.717 1232.65 54.928 1235.6 55.05C1238.55 55.172 1235.6 55.238 1244.4 55.28C1255.13 55.322 1267.4 55.301 1300 55.3C1332.6 55.299 1414.67 55.292 1440 55.275C1452 55.258 1442 55.213 1452 55.2C1462 55.188 1475.33 55.208 1500 55.2C1524.67 55.192 1559.5 55.175 1600 55.15C1640.5 55.125 1719.17 55.067 1743 55.05"/>
</g>
<g stroke="#008888">
<path class="c" transform="scale(20 1)" d="M11.7 187C11.729 187.83 11.812 189.83 11.875 192C11.938 194.17 12.012 196.07 12.075 200C12.138 203.93 12.201 210.93 12.255 215.6C12.309 220.27 12.347 223.1 12.4 228C12.453 232.9 12.442 220.83 12.575 245C12.708 269.17 12.996 330.5 13.2 373C13.404 415.5 13.663 470.5 13.8 500C13.938 529.5 13.892 527.83 14.025 550C14.158 572.17 14.44 609.67 14.6 633C14.76 656.33 14.91 678.83 14.985 690C15.05 701.17 14.989 691.67 15.05 700C15.111 708.33 15.248 727.78 15.35 740C15.453 752.22 15.501 764.03 15.665 773.3C15.829 782.57 16.149 788.18 16.335 795.6C16.521 803.02 16.633 811.13 16.78 817.8C16.928 824.47 17.035 836.35 17.22 835.6C17.405 834.85 17.704 819.23 17.89 813.3C18.076 807.37 18.197 803.15 18.335 800C18.473 796.85 18.591 793.67 18.72 794.4C18.849 795.13 18.989 799.4 19.11 804.4C19.231 809.4 19.333 815.87 19.445 824.4C19.557 832.93 19.669 844.5 19.78 855.6C19.891 866.7 19.999 879.6 20.11 891C20.221 902.4 20.333 915.42 20.445 924C20.557 932.58 20.669 938.9 20.78 942.5C20.891 946.1 20.963 944.18 21.11 945.6C21.258 947.02 21.517 950.43 21.665 951C21.813 951.57 21.861 948.23 22 949C22.139 949.77 22.333 953.6 22.5 955.6C22.667 957.6 22.842 959.77 23 961C23.158 962.23 23.302 962.05 23.45 963C23.598 963.95 23.723 966.53 23.89 966.7C24.057 966.87 24.283 963.78 24.45 964C24.617 964.22 24.743 965.42 24.89 968C25.038 970.58 25.206 975.67 25.335 979.5C25.464 983.33 25.554 986.08 25.665 991C25.776 995.92 25.888 1002.67 26 1009C26.112 1015.33 26.224 1022.72 26.335 1029C26.446 1035.28 26.554 1041.9 26.665 1046.7C26.776 1051.5 26.869 1054.47 27 1057.8C27.131 1061.13 27.302 1064.5 27.45 1066.7C27.598 1068.9 27.742 1070.62 27.89 1071C28.038 1071.38 28.187 1070.5 28.335 1069C28.483 1067.5 28.633 1063.87 28.78 1062C28.927 1060.13 29.053 1060.73 29.22 1057.8C29.387 1054.87 29.594 1048.7 29.78 1044.4C29.966 1040.1 30.168 1034.67 30.335 1032C30.502 1029.33 30.633 1028.73 30.78 1028.4C30.927 1028.07 31.073 1028.07 31.22 1030C31.367 1031.93 31.518 1035.73 31.665 1040C31.812 1044.27 31.953 1050.97 32.1 1055.6C32.248 1060.23 32.4 1064.28 32.55 1067.8C32.7 1071.32 32.85 1074.33 33 1076.7C33.15 1079.07 33.267 1080.72 33.45 1082C33.633 1083.28 33.842 1084.07 34.1 1084.4C34.358 1084.73 34.702 1084.57 35 1084C35.298 1083.43 35.557 1081.67 35.89 1081C36.223 1080.33 36.648 1080 37 1080C37.352 1080 37.667 1080.5 38 1081C38.333 1081.5 38.685 1082.05 39 1083C39.315 1083.95 39.613 1085.35 39.89 1086.7C40.167 1088.05 40.397 1090.18 40.665 1091.1C40.933 1092.02 41.222 1092.38 41.5 1092.2C41.778 1092.02 42.058 1091.3 42.335 1090C42.613 1088.7 42.888 1086.62 43.165 1084.4C43.442 1082.18 43.768 1079.28 44 1076.7C44.232 1074.12 44.37 1071.68 44.555 1068.9C44.74 1066.12 44.925 1063.33 45.11 1060C45.295 1056.67 45.48 1053.17 45.665 1048.9C45.85 1044.63 46.034 1039.58 46.22 1034.4C46.406 1029.22 46.592 1023.7 46.78 1017.8C46.968 1011.9 47.087 1009.75 47.35 999C47.613 988.25 48.103 966.47 48.36 953.3C48.617 940.13 48.767 928.88 48.89 920C49.013 911.12 49.015 907 49.1 900C49.185 893 49.287 885.83 49.4 878C49.513 870.17 49.624 863.83 49.78 853C49.936 842.17 50.148 826 50.335 813C50.522 800 50.702 788 50.9 775C51.098 762 51.329 747.5 51.525 735C51.721 722.5 51.892 712.5 52.075 700C52.258 687.5 52.479 671.17 52.625 660C52.771 648.83 52.846 642.27 52.95 633C53.054 623.73 53.15 613.97 53.25 604.4C53.35 594.83 53.443 585.6 53.55 575.6C53.657 565.6 53.778 555.5 53.89 544.4C54.002 533.3 54.131 520.07 54.22 509C54.309 497.93 54.358 488 54.425 478C54.492 468 54.558 458.33 54.625 449C54.692 439.67 54.758 429.5 54.825 422C54.892 414.5 54.956 409.5 55.025 404C55.094 398.5 55.169 393.55 55.24 389C55.311 384.45 55.39 380.03 55.45 376.7C55.51 373.37 55.555 370.67 55.6 369C55.645 367.33 55.678 366.7 55.72 366.7C55.762 366.7 55.803 367.72 55.85 369C55.897 370.28 55.938 370.9 56 374.4C56.062 377.9 56.145 383.73 56.22 390C56.295 396.27 56.376 403.5 56.45 412C56.524 420.5 56.602 432.17 56.665 441C56.727 449.83 56.769 455.53 56.825 465C56.881 474.47 56.934 483.13 57 497.8C57.066 512.47 57.145 534.47 57.22 553C57.295 571.53 57.376 590.43 57.45 609C57.524 627.57 57.602 647.23 57.665 664.4C57.727 681.57 57.769 697.23 57.825 712C57.881 726.77 57.934 736.83 58 753C58.066 769.17 58.155 792.83 58.22 809C58.285 825.17 58.335 837.67 58.39 850C58.445 862.33 58.485 871.17 58.55 883C58.615 894.83 58.705 908.72 58.78 921C58.855 933.28 58.927 945.57 59 956.7C59.073 967.83 59.145 978.58 59.22 987.8C59.295 997.02 59.357 1003.13 59.45 1012C59.543 1020.87 59.672 1032.83 59.78 1041C59.888 1049.17 59.988 1055.05 60.1 1061C60.212 1066.95 60.318 1071.87 60.45 1076.7C60.582 1081.53 60.723 1086.28 60.89 1090C61.057 1093.72 61.265 1096.83 61.45 1099C61.635 1101.17 61.798 1102 62 1103C62.203 1104 62.39 1104.67 62.665 1105C62.94 1105.33 63.461 1105.25 63.65 1105C63.8 1104.75 63.75 1103.5 63.8 1103.5C63.85 1103.5 63.8 1104.75 63.95 1105C64.15 1105.25 64.408 1105.02 65 1105C65.592 1104.98 67.058 1105.16 67.5 1104.89C67.65 1104.62 67.6 1103.39 67.65 1103.39C67.7 1103.38 67.65 1104.64 67.8 1104.88C68.042 1105.12 68.858 1105.13 69.1 1104.82C69.25 1104.51 69.2 1103.02 69.25 1103.02C69.3 1103.02 69.25 1104.53 69.4 1104.81C69.767 1105.1 71.083 1105.07 71.45 1104.72C71.6 1104.37 71.55 1102.72 71.6 1102.72C71.65 1102.71 71.683 1104.38 71.75 1104.71C71.817 1105.04 71.858 1104.99 72 1104.7C72.142 1104.41 72.1 1103.28 72.6 1103C73.1 1102.72 74.292 1103.06 75 1103C75.708 1102.94 76.517 1102.95 76.85 1102.63C77 1102.31 76.95 1101.11 77 1101.1C77.05 1101.09 77 1102.37 77.15 1102.57C77.4 1102.77 78.25 1102.6 78.5 1102.3C78.65 1102 78.6 1100.78 78.65 1100.77C78.7 1100.76 78.65 1102.04 78.8 1102.24C79.025 1102.44 79.675 1102.06 80 1102C80.325 1101.94 80.6 1102.17 80.75 1101.9C80.9 1101.62 80.85 1100.38 80.9 1100.37C80.95 1100.37 80.9 1101.75 81.05 1101.85C82.092 1101.96 86.133 1101.14 87.15 1101"/>
<path class="c" transform="scale(1 20)" d="M234 9.35C234.58 9.392 236.25 9.492 237.5 9.6C238.75 9.708 240.23 9.803 241.5 10C242.77 10.197 244.02 10.547 245.1 10.78C246.18 11.013 246.93 11.155 248 11.4C249.07 11.645 248.83 11.042 251.5 12.25C254.17 13.458 259.92 16.525 264 18.65C268.08 20.775 273.25 23.525 276 25C278.75 26.475 277.83 26.392 280.5 27.5C283.17 28.608 288.8 30.483 292 31.65C295.2 32.817 298.2 33.942 299.7 34.5C301 35.058 299.78 34.583 301 35C302.22 35.417 304.95 36.389 307 37C309.05 37.611 310.02 38.202 313.3 38.665C316.58 39.128 322.98 39.409 326.7 39.78C330.42 40.151 332.65 40.557 335.6 40.89C338.55 41.223 340.7 41.818 344.4 41.78C348.1 41.743 354.08 40.962 357.8 40.665C361.52 40.368 363.93 40.157 366.7 40C369.47 39.843 371.82 39.683 374.4 39.72C376.98 39.757 379.78 39.97 382.2 40.22C384.62 40.47 386.67 40.793 388.9 41.22C391.13 41.647 393.38 42.225 395.6 42.78C397.82 43.335 399.98 43.98 402.2 44.55C404.42 45.12 406.67 45.771 408.9 46.2C411.13 46.629 413.38 46.945 415.6 47.125C417.82 47.305 419.25 47.209 422.2 47.28C425.15 47.351 430.33 47.522 433.3 47.55C436.27 47.578 437.22 47.412 440 47.45C442.78 47.488 446.67 47.68 450 47.78C453.33 47.88 456.83 47.988 460 48.05C463.17 48.112 466.03 48.102 469 48.15C471.97 48.198 474.47 48.327 477.8 48.335C481.13 48.343 485.67 48.189 489 48.2C492.33 48.211 494.85 48.271 497.8 48.4C500.75 48.529 504.12 48.783 506.7 48.975C509.28 49.167 511.08 49.304 513.3 49.55C515.52 49.796 517.77 50.133 520 50.45C522.23 50.767 524.48 51.136 526.7 51.45C528.92 51.764 531.08 52.095 533.3 52.335C535.52 52.575 537.38 52.723 540 52.89C542.62 53.057 546.03 53.225 549 53.335C551.97 53.445 554.85 53.531 557.8 53.55C560.75 53.569 563.73 53.525 566.7 53.45C569.67 53.375 572.65 53.193 575.6 53.1C578.55 53.007 581.07 53.037 584.4 52.89C587.73 52.743 591.88 52.435 595.6 52.22C599.32 52.005 603.37 51.733 606.7 51.6C610.03 51.467 612.65 51.437 615.6 51.42C618.55 51.403 621.45 51.403 624.4 51.5C627.35 51.597 630.37 51.787 633.3 52C636.23 52.213 639.05 52.548 642 52.78C644.95 53.012 648 53.214 651 53.39C654 53.566 657 53.717 660 53.835C663 53.953 665.33 54.036 669 54.1C672.67 54.164 676.83 54.203 682 54.22C687.17 54.237 694.03 54.228 700 54.2C705.97 54.172 711.13 54.083 717.8 54.05C724.47 54.017 732.97 54 740 54C747.03 54 753.33 54.025 760 54.05C766.67 54.075 773.7 54.102 780 54.15C786.3 54.198 792.25 54.268 797.8 54.335C803.35 54.403 807.93 54.509 813.3 54.555C818.67 54.601 824.43 54.619 830 54.61C835.57 54.601 841.15 54.565 846.7 54.5C852.25 54.435 857.75 54.331 863.3 54.22C868.85 54.109 875.37 53.964 880 53.835C884.63 53.706 887.4 53.584 891.1 53.445C894.8 53.306 898.5 53.167 902.2 53C905.9 52.833 909.6 52.658 913.3 52.445C917 52.232 920.68 51.979 924.4 51.72C928.12 51.461 931.83 51.185 935.6 50.89C939.37 50.595 941.73 50.488 947 49.95C952.27 49.413 962.07 48.323 967.2 47.665C972.33 47.007 975.33 46.444 977.8 46C980.27 45.556 980.3 45.35 982 45C983.7 44.65 985.73 44.292 988 43.9C990.27 43.508 992.48 43.192 995.6 42.65C998.72 42.108 1002.97 41.3 1006.7 40.65C1010.43 40 1014.03 39.4 1018 38.75C1021.97 38.1 1026.58 37.375 1030.5 36.75C1034.42 36.125 1037.83 35.625 1041.5 35C1045.17 34.375 1049.58 33.558 1052.5 33C1055.42 32.442 1056.92 32.113 1059 31.65C1061.08 31.187 1063 30.698 1065 30.22C1067 29.742 1068.87 29.28 1071 28.78C1073.13 28.28 1075.57 27.775 1077.8 27.22C1080.03 26.665 1082.62 26.003 1084.4 25.45C1086.18 24.897 1087.15 24.4 1088.5 23.9C1089.85 23.4 1091.17 22.917 1092.5 22.45C1093.83 21.983 1095.17 21.475 1096.5 21.1C1097.83 20.725 1099.12 20.475 1100.5 20.2C1101.88 19.925 1103.38 19.678 1104.8 19.45C1106.22 19.223 1107.8 19.002 1109 18.835C1110.2 18.668 1111.1 18.533 1112 18.45C1112.9 18.367 1113.57 18.335 1114.4 18.335C1115.23 18.335 1116.07 18.386 1117 18.45C1117.93 18.514 1118.77 18.545 1120 18.72C1121.23 18.895 1122.9 19.187 1124.4 19.5C1125.9 19.813 1127.52 20.175 1129 20.6C1130.48 21.025 1132.05 21.608 1133.3 22.05C1134.55 22.492 1135.38 22.777 1136.5 23.25C1137.62 23.723 1138.68 24.157 1140 24.89C1141.32 25.623 1142.9 26.723 1144.4 27.65C1145.9 28.577 1147.52 29.522 1149 30.45C1150.48 31.378 1152.05 32.362 1153.3 33.22C1154.55 34.078 1155.38 34.862 1156.5 35.6C1157.62 36.338 1158.68 36.842 1160 37.65C1161.32 38.458 1163.1 39.642 1164.4 40.45C1165.7 41.258 1166.7 41.883 1167.8 42.5C1168.9 43.117 1169.7 43.558 1171 44.15C1172.3 44.742 1174.1 45.436 1175.6 46.05C1177.1 46.664 1178.53 47.278 1180 47.835C1181.47 48.392 1182.9 48.929 1184.4 49.39C1185.9 49.851 1187.13 50.157 1189 50.6C1190.87 51.043 1193.43 51.642 1195.6 52.05C1197.77 52.458 1199.77 52.752 1202 53.05C1204.23 53.348 1206.37 53.593 1209 53.835C1211.63 54.077 1214.47 54.314 1217.8 54.5C1221.13 54.686 1225.3 54.842 1229 54.95C1232.7 55.058 1235.95 55.1 1240 55.15C1244.05 55.2 1247.8 55.233 1253.3 55.25C1258.8 55.267 1269.22 55.263 1273 55.25C1276 55.238 1275 55.175 1276 55.175C1277 55.175 1276 55.238 1279 55.25C1283 55.263 1288.17 55.251 1300 55.25C1311.83 55.249 1341.17 55.258 1350 55.245C1353 55.231 1352 55.169 1353 55.169C1354 55.169 1353 55.232 1356 55.244C1360.83 55.256 1377.17 55.257 1382 55.241C1385 55.226 1384 55.151 1385 55.151C1386 55.151 1385 55.226 1388 55.241C1395.33 55.255 1421.67 55.254 1429 55.236C1432 55.219 1431 55.136 1432 55.136C1433 55.136 1433.67 55.219 1435 55.236C1436.33 55.252 1437.17 55.249 1440 55.235C1442.83 55.221 1442 55.164 1452 55.15C1462 55.136 1485.83 55.153 1500 55.15C1514.17 55.147 1530.33 55.147 1537 55.132C1540 55.116 1539 55.055 1540 55.055C1541 55.054 1540 55.118 1543 55.129C1548 55.139 1565 55.13 1570 55.115C1573 55.1 1572 55.039 1573 55.038C1574 55.038 1573 55.102 1576 55.112C1580.5 55.122 1593.5 55.103 1600 55.1C1606.5 55.097 1612 55.108 1615 55.095C1618 55.081 1617 55.019 1618 55.019C1619 55.018 1618 55.087 1621 55.093C1641.83 55.098 1722.67 55.057 1743 55.05"/>
</g>
<g stroke="#ff00ff">
<path class="c" transform="scale(20 1)" d="M11.7 193C11.733 194.17 11.817 196.33 11.9 200C11.983 203.67 12.108 209.17 12.2 215C12.292 220.83 12.379 227.17 12.45 235C12.521 242.83 12.492 239 12.625 262C12.758 285 13.046 333.33 13.25 373C13.454 412.67 13.713 470.5 13.85 500C13.988 529.5 13.958 527.83 14.075 550C14.192 572.17 14.425 609.67 14.55 633C14.675 656.33 14.768 678.83 14.825 690C14.882 701.17 14.825 691 14.89 700C14.956 709 15.11 731.4 15.22 744C15.33 756.6 15.438 767.77 15.55 775.6C15.662 783.43 15.778 786.2 15.89 791C16.002 795.8 16.11 798.45 16.22 804.4C16.33 810.35 16.438 821.5 16.55 826.7C16.662 831.9 16.788 833.22 16.89 835.6C16.993 837.98 17.055 841.43 17.165 841C17.275 840.57 17.411 836 17.55 833C17.689 830 17.814 824.43 18 823C18.186 821.57 18.498 821.23 18.665 824.4C18.832 827.57 18.888 835.33 19 842C19.112 848.67 19.224 855.9 19.335 864.4C19.446 872.9 19.554 883.73 19.665 893C19.776 902.27 19.888 912.17 20 920C20.112 927.83 20.224 934.5 20.335 940C20.446 945.5 20.536 950.03 20.665 953C20.794 955.97 20.979 956.13 21.11 957.8C21.241 959.47 21.32 962.47 21.45 963C21.58 963.53 21.762 960.38 21.89 961C22.018 961.62 22.072 965.2 22.22 966.7C22.368 968.2 22.633 968.95 22.78 970C22.927 971.05 22.988 971.5 23.1 973C23.212 974.5 23.318 978.38 23.45 979C23.582 979.62 23.743 977.08 23.89 976.7C24.038 976.32 24.187 975.82 24.335 976.7C24.483 977.58 24.653 979.28 24.78 982C24.908 984.72 24.988 989.07 25.1 993C25.212 996.93 25.337 1001.27 25.45 1005.6C25.563 1009.93 25.672 1014 25.78 1019C25.888 1024 25.988 1030.6 26.1 1035.6C26.212 1040.6 26.337 1045.67 26.45 1049C26.563 1052.33 26.652 1053.43 26.78 1055.6C26.908 1057.77 27.073 1059.97 27.22 1062C27.367 1064.03 27.518 1067.2 27.665 1067.8C27.812 1068.4 27.953 1066.9 28.1 1065.6C28.248 1064.3 28.4 1061.67 28.55 1060C28.7 1058.33 28.869 1057.43 29 1055.6C29.131 1053.77 29.224 1051.77 29.335 1049C29.446 1046.23 29.538 1041.43 29.665 1039C29.792 1036.57 29.953 1035.4 30.1 1034.4C30.248 1033.4 30.418 1032.8 30.55 1033C30.682 1033.2 30.759 1033.7 30.89 1035.6C31.021 1037.5 31.187 1040.7 31.335 1044.4C31.483 1048.1 31.633 1053.9 31.78 1057.8C31.927 1061.7 32.073 1065.27 32.22 1067.8C32.367 1070.33 32.518 1071.33 32.665 1073C32.812 1074.67 32.933 1076.63 33.1 1077.8C33.267 1078.97 33.385 1079.8 33.665 1080C33.945 1080.2 34.409 1079.37 34.78 1079C35.151 1078.63 35.297 1078 35.89 1077.8C36.483 1077.6 37.742 1077.1 38.335 1077.8C38.928 1078.5 39.154 1080.52 39.45 1082C39.746 1083.48 39.815 1085.92 40.11 1086.7C40.405 1087.48 40.896 1087.08 41.22 1086.7C41.544 1086.32 41.823 1085.52 42.055 1084.4C42.287 1083.28 42.425 1081.67 42.61 1080C42.795 1078.33 42.98 1076.62 43.165 1074.4C43.35 1072.18 43.534 1069.47 43.72 1066.7C43.906 1063.93 44.094 1060.95 44.28 1057.8C44.466 1054.65 44.65 1051.5 44.835 1047.8C45.02 1044.1 45.205 1040.23 45.39 1035.6C45.575 1030.97 45.788 1024.45 45.945 1020C46.102 1015.55 46.205 1012.4 46.335 1008.9C46.465 1005.4 46.471 1008.27 46.725 999C46.979 989.73 47.578 966.47 47.86 953.3C48.142 940.13 48.262 928.88 48.415 920C48.568 911.12 48.646 908.5 48.78 900C48.914 891.5 49.035 881.6 49.22 869C49.405 856.4 49.668 838.5 49.89 824.4C50.112 810.3 50.348 796.3 50.55 784.4C50.752 772.5 50.914 763.73 51.1 753C51.286 742.27 51.515 728.1 51.665 720C51.815 711.9 51.888 709.95 52 704.4C52.112 698.85 52.224 692.98 52.335 686.7C52.446 680.42 52.554 673.75 52.665 666.7C52.776 659.65 52.888 651.85 53 644.4C53.112 636.95 53.224 629.4 53.335 622C53.446 614.6 53.554 607.37 53.665 600C53.776 592.63 53.888 584.83 54 577.8C54.112 570.77 54.224 563.93 54.335 557.8C54.446 551.67 54.579 544.47 54.665 541C54.751 537.53 54.786 537.9 54.85 537C54.914 536.1 54.983 535.52 55.05 535.6C55.117 535.68 55.183 536.43 55.25 537.5C55.317 538.57 55.362 538.62 55.45 542C55.538 545.38 55.672 551.47 55.78 557.8C55.888 564.13 55.988 571.47 56.1 580C56.212 588.53 56.356 599.73 56.45 609C56.544 618.27 56.592 625.98 56.665 635.6C56.738 645.22 56.817 655.97 56.89 666.7C56.963 677.43 57.045 691.12 57.1 700C57.155 708.88 57.162 710.37 57.22 720C57.278 729.63 57.376 744.83 57.45 757.8C57.524 770.77 57.601 784.1 57.665 797.8C57.729 811.5 57.771 826.3 57.835 840C57.899 853.7 57.977 867.17 58.05 880C58.123 892.83 58.208 905.7 58.275 917C58.342 928.3 58.385 937.85 58.45 947.8C58.515 957.75 58.592 967.83 58.665 976.7C58.738 985.57 58.817 993.62 58.89 1001C58.963 1008.38 59.026 1014.67 59.1 1021C59.174 1027.33 59.241 1032.67 59.335 1039C59.429 1045.33 59.554 1053.5 59.665 1059C59.776 1064.5 59.869 1067.57 60 1072C60.131 1076.43 60.302 1082.1 60.45 1085.6C60.598 1089.1 60.723 1090.77 60.89 1093C61.057 1095.23 61.265 1097.57 61.45 1099C61.635 1100.43 61.825 1101.15 62 1101.6C62.175 1102.05 62.392 1101.43 62.5 1101.7C62.608 1101.97 62.6 1103.22 62.65 1103.23C62.7 1103.24 62.65 1101.95 62.8 1101.76C63.083 1101.57 64.067 1102.21 64.35 1102.07C64.5 1101.93 64.45 1100.89 64.5 1100.9C64.55 1100.91 64.567 1101.91 64.65 1102.13C64.733 1102.35 64.65 1102.19 65 1102.2C65.475 1102.21 67.058 1102.45 67.5 1102.2C67.65 1101.95 67.6 1100.7 67.65 1100.7C67.7 1100.7 67.65 1101.95 67.8 1102.2C68.042 1102.45 68.858 1102.45 69.1 1102.2C69.25 1101.95 69.2 1100.7 69.25 1100.7C69.3 1100.7 69.25 1101.95 69.4 1102.2C69.75 1102.45 71 1102.45 71.35 1102.2C71.5 1101.95 71.45 1100.7 71.5 1100.7C71.55 1100.7 71.567 1101.95 71.65 1102.2C71.733 1102.45 71.842 1102.57 72 1102.2C72.158 1101.83 72.1 1100.42 72.6 1100C73.1 1099.58 74.25 1099.8 75 1099.7C75.75 1099.6 76.725 1099.21 77.1 1099.41C77.25 1099.6 77.2 1100.89 77.25 1100.88C77.3 1100.88 77.25 1099.68 77.4 1099.36C77.858 1099.05 79.508 1099.07 80 1099C80.35 1098.93 80.267 1099.16 80.35 1098.95C80.433 1098.74 80.45 1097.74 80.5 1097.73C80.55 1097.72 80.5 1098.86 80.65 1098.91C81.758 1098.95 86.067 1098.15 87.15 1098"/>
<path class="c" transform="scale(1 20)" d="M234 9.65C234.67 9.708 236.33 9.817 238 10C239.67 10.183 242.17 10.458 244 10.75C245.83 11.042 247.58 11.358 249 11.75C250.42 12.142 249.83 11.95 252.5 13.1C255.17 14.25 260.92 16.667 265 18.65C269.08 20.633 274.25 23.525 277 25C279.75 26.475 279.17 26.392 281.5 27.5C283.83 28.608 288.5 30.483 291 31.65C293.5 32.817 295.37 33.942 296.5 34.5C297.63 35.058 296.5 34.55 297.8 35C299.12 35.45 302.2 36.57 304.4 37.2C306.6 37.83 308.77 38.388 311 38.78C313.23 39.172 315.57 39.31 317.8 39.55C320.03 39.79 322.2 39.922 324.4 40.22C326.6 40.518 328.77 41.075 331 41.335C333.23 41.595 335.75 41.661 337.8 41.78C339.85 41.899 341.1 42.072 343.3 42.05C345.5 42.028 348.22 41.8 351 41.65C353.78 41.5 356.28 41.222 360 41.15C363.72 41.078 369.97 41.062 373.3 41.22C376.63 41.378 377.77 41.767 380 42.1C382.23 42.433 384.48 42.795 386.7 43.22C388.92 43.645 391.08 44.187 393.3 44.65C395.52 45.113 397.77 45.608 400 46C402.23 46.392 404.48 46.725 406.7 47C408.92 47.275 410.72 47.502 413.3 47.65C415.88 47.798 419.58 47.807 422.2 47.89C424.82 47.973 426.4 48.123 429 48.15C431.6 48.177 435.23 48.019 437.8 48.05C440.37 48.081 441.43 48.26 444.4 48.335C447.37 48.41 452.67 48.448 455.6 48.5C458.53 48.553 459.77 48.575 462 48.65C464.23 48.725 466.37 48.919 469 48.95C471.63 48.981 474.85 48.854 477.8 48.835C480.75 48.816 483.73 48.791 486.7 48.835C489.67 48.879 493.05 48.964 495.6 49.1C498.15 49.236 499.77 49.453 502 49.65C504.23 49.847 506.73 50.063 509 50.28C511.27 50.497 513.43 50.7 515.6 50.95C517.77 51.2 519.77 51.53 522 51.78C524.23 52.03 526.73 52.283 529 52.45C531.27 52.617 533.03 52.672 535.6 52.78C538.17 52.888 541.45 52.998 544.4 53.1C547.35 53.202 550.37 53.36 553.3 53.39C556.23 53.42 559.05 53.345 562 53.28C564.95 53.215 568 53.083 571 53C574 52.917 577.38 52.872 580 52.78C582.62 52.688 584.48 52.588 586.7 52.45C588.92 52.312 590.75 52.072 593.3 51.95C595.85 51.828 599.05 51.77 602 51.72C604.95 51.67 608.37 51.64 611 51.65C613.63 51.66 615.18 51.685 617.8 51.78C620.42 51.875 623.73 52.035 626.7 52.22C629.67 52.405 632.65 52.695 635.6 52.89C638.55 53.085 641.45 53.263 644.4 53.39C647.35 53.517 650.37 53.567 653.3 53.65C656.23 53.733 658.67 53.832 662 53.89C665.33 53.948 667.7 53.99 673.3 54C678.9 54.01 688.18 53.968 695.6 53.95C703.02 53.932 705.95 53.9 717.8 53.89C729.65 53.88 754.83 53.855 766.7 53.89C778.57 53.925 783.08 54.026 789 54.1C794.92 54.174 796.3 54.296 802.2 54.335C808.1 54.374 817.92 54.354 824.4 54.335C830.88 54.316 836.47 54.276 841.1 54.22C845.73 54.164 848.5 54.083 852.2 54C855.9 53.917 859.6 53.831 863.3 53.72C867 53.609 870.68 53.473 874.4 53.335C878.12 53.197 881.88 53.048 885.6 52.89C889.32 52.732 893 52.575 896.7 52.39C900.4 52.205 904.1 52.012 907.8 51.78C911.5 51.548 915.75 51.223 918.9 51C922.05 50.778 924.1 50.62 926.7 50.445C929.3 50.27 929.42 50.413 934.5 49.95C939.58 49.487 951.57 48.323 957.2 47.665C962.83 47.007 965.23 46.444 968.3 46C971.37 45.556 972.92 45.425 975.6 45C978.28 44.575 980.7 44.08 984.4 43.45C988.1 42.82 993.37 41.925 997.8 41.22C1002.23 40.515 1006.97 39.815 1011 39.22C1015.03 38.625 1018.28 38.187 1022 37.65C1025.72 37.113 1030.3 36.405 1033.3 36C1036.3 35.595 1037.77 35.497 1040 35.22C1042.23 34.943 1044.48 34.649 1046.7 34.335C1048.92 34.021 1051.08 33.688 1053.3 33.335C1055.52 32.983 1057.77 32.593 1060 32.22C1062.23 31.847 1064.48 31.47 1066.7 31.1C1068.92 30.73 1071.08 30.368 1073.3 30C1075.52 29.632 1077.77 29.242 1080 28.89C1082.23 28.538 1084.48 28.197 1086.7 27.89C1088.92 27.583 1091.58 27.223 1093.3 27.05C1095.02 26.877 1095.72 26.895 1097 26.85C1098.28 26.805 1099.67 26.776 1101 26.78C1102.33 26.784 1103.67 26.822 1105 26.875C1106.33 26.928 1107.23 26.931 1109 27.1C1110.77 27.269 1113.43 27.573 1115.6 27.89C1117.77 28.207 1119.77 28.573 1122 29C1124.23 29.427 1127.12 29.987 1129 30.45C1130.88 30.913 1131.83 31.299 1133.3 31.78C1134.77 32.261 1136.35 32.798 1137.8 33.335C1139.25 33.872 1140.9 34.556 1142 35C1143.1 35.444 1143.23 35.518 1144.4 36C1145.57 36.482 1147.52 37.242 1149 37.89C1150.48 38.538 1152.02 39.205 1153.3 39.89C1154.58 40.575 1155.42 41.315 1156.7 42C1157.98 42.685 1159.53 43.358 1161 44C1162.47 44.642 1164.17 45.285 1165.5 45.85C1166.83 46.415 1167.7 46.892 1169 47.39C1170.3 47.888 1171.83 48.392 1173.3 48.835C1174.77 49.278 1176.35 49.681 1177.8 50.05C1179.25 50.419 1180.52 50.733 1182 51.05C1183.48 51.367 1184.82 51.633 1186.7 51.95C1188.58 52.267 1191.08 52.675 1193.3 52.95C1195.52 53.225 1197.38 53.378 1200 53.6C1202.62 53.822 1206.03 54.105 1209 54.28C1211.97 54.455 1214.47 54.538 1217.8 54.65C1221.13 54.762 1225.3 54.878 1229 54.95C1232.7 55.022 1236.5 55.057 1240 55.08C1243.5 55.102 1247.83 55.071 1250 55.085C1252.17 55.099 1252 55.161 1253 55.162C1254 55.162 1253 55.098 1256 55.088C1261.67 55.078 1281.33 55.111 1287 55.103C1290 55.096 1289 55.044 1290 55.045C1291 55.045 1291.33 55.096 1293 55.107C1294.67 55.117 1293 55.109 1300 55.11C1309.5 55.111 1341.17 55.123 1350 55.11C1353 55.098 1352 55.035 1353 55.035C1354 55.035 1353 55.098 1356 55.11C1360.83 55.123 1377.17 55.123 1382 55.11C1385 55.098 1384 55.035 1385 55.035C1386 55.035 1385 55.098 1388 55.11C1395 55.123 1420 55.123 1427 55.11C1430 55.098 1429 55.035 1430 55.035C1431 55.035 1431.33 55.098 1433 55.11C1434.67 55.123 1436.83 55.128 1440 55.11C1443.17 55.092 1442 55.021 1452 55C1462 54.979 1485 54.99 1500 54.985C1515 54.98 1534.5 54.96 1542 54.97C1545 54.98 1544 55.045 1545 55.044C1546 55.044 1545 54.984 1548 54.968C1557.17 54.952 1590.17 54.953 1600 54.95C1607 54.947 1605.33 54.958 1607 54.948C1608.67 54.937 1609 54.887 1610 54.887C1611 54.886 1610 54.943 1613 54.945C1635.17 54.948 1721.33 54.908 1743 54.9"/>
</g>
<g stroke="#888800">
<path class="c" transform="scale(20 1)" d="M11.7 232C11.725 230.83 11.792 226.5 11.85 225C11.908 223.5 11.983 221.83 12.05 223C12.117 224.17 12.192 227.83 12.25 232C12.308 236.17 12.35 240.83 12.4 248C12.45 255.17 12.438 254.17 12.55 275C12.663 295.83 12.892 335.5 13.075 373C13.258 410.5 13.521 470.5 13.65 500C13.779 529.5 13.742 527.83 13.85 550C13.958 572.17 14.175 608 14.3 633C14.425 658 14.508 680.5 14.6 700C14.692 719.5 14.767 735.17 14.85 750C14.933 764.83 15.019 779.17 15.1 789C15.181 798.83 15.26 803.83 15.335 809C15.41 814.17 15.457 817.5 15.55 820C15.643 822.5 15.798 821.4 15.89 824C15.982 826.6 16.007 832.93 16.1 835.6C16.193 838.27 16.358 837.43 16.45 840C16.542 842.57 16.558 848.03 16.65 851C16.742 853.97 16.886 857.47 17 857.8C17.114 858.13 17.224 854.13 17.335 853C17.446 851.87 17.554 850.57 17.665 851C17.776 851.43 17.888 852.27 18 855.6C18.112 858.93 18.224 867.3 18.335 871C18.446 874.7 18.554 873.3 18.665 877.8C18.776 882.3 18.888 890.97 19 898C19.112 905.03 19.224 912.83 19.335 920C19.446 927.17 19.554 934.17 19.665 941C19.776 947.83 19.907 956.33 20 961C20.093 965.67 20.109 966.5 20.22 969C20.331 971.5 20.518 974.17 20.665 976C20.812 977.83 20.953 978.6 21.1 980C21.248 981.4 21.4 983.9 21.55 984.4C21.7 984.9 21.869 981.9 22 983C22.131 984.1 22.218 990 22.335 991C22.452 992 22.573 988.33 22.7 989C22.828 989.67 22.902 993.9 23.1 995C23.298 996.1 23.684 994.77 23.89 995.6C24.096 996.43 24.206 998.15 24.335 1000C24.464 1001.85 24.554 1004.87 24.665 1006.7C24.776 1008.53 24.888 1008.05 25 1011C25.112 1013.95 25.224 1020.3 25.335 1024.4C25.446 1028.5 25.554 1031.5 25.665 1035.6C25.776 1039.7 25.888 1045.67 26 1049C26.112 1052.33 26.205 1053.6 26.335 1055.6C26.465 1057.6 26.633 1059.33 26.78 1061C26.927 1062.67 27.092 1064.65 27.22 1065.6C27.348 1066.55 27.438 1067.47 27.55 1066.7C27.662 1065.93 27.759 1062.48 27.89 1061C28.021 1059.52 28.187 1059.13 28.335 1057.8C28.483 1056.47 28.633 1054.13 28.78 1053C28.927 1051.87 29.073 1052.83 29.22 1051C29.367 1049.17 29.535 1043.1 29.665 1042C29.795 1040.9 29.888 1044 30 1044.4C30.112 1044.8 30.205 1043.13 30.335 1044.4C30.465 1045.67 30.653 1050.57 30.78 1052C30.907 1053.43 30.972 1051.5 31.1 1053C31.228 1054.5 31.4 1058.33 31.55 1061C31.7 1063.67 31.869 1066.57 32 1069C32.131 1071.43 32.205 1074.13 32.335 1075.6C32.465 1077.07 32.633 1076.9 32.78 1077.8C32.928 1078.7 33.073 1080.13 33.22 1081C33.367 1081.87 33.518 1082.72 33.665 1083C33.812 1083.28 33.914 1083.2 34.1 1082.7C34.286 1082.2 34.538 1080.28 34.78 1080C35.022 1079.72 35.291 1081 35.55 1081C35.809 1081 36.057 1080 36.335 1080C36.613 1080 36.887 1080.5 37.22 1081C37.553 1081.5 38.038 1082.52 38.335 1083C38.632 1083.48 38.704 1083.85 39 1083.9C39.296 1083.95 39.795 1083.48 40.11 1083.3C40.425 1083.12 40.658 1083.53 40.89 1082.8C41.122 1082.07 41.297 1080.1 41.5 1078.9C41.703 1077.7 41.897 1077.27 42.11 1075.6C42.323 1073.93 42.558 1071.5 42.78 1068.9C43.002 1066.3 43.242 1063.15 43.445 1060C43.648 1056.85 43.815 1053.52 44 1050C44.185 1046.48 44.388 1042.42 44.555 1038.9C44.722 1035.38 44.861 1032.23 45 1028.9C45.139 1025.57 45.27 1022.23 45.39 1018.9C45.51 1015.57 45.616 1012.22 45.72 1008.9C45.824 1005.58 45.765 1008.27 46.015 999C46.265 989.73 46.917 966.47 47.22 953.3C47.523 940.13 47.668 928.88 47.835 920C48.002 911.12 48.137 904.5 48.22 900C48.303 895.5 48.223 899.33 48.335 893C48.447 886.67 48.704 872 48.89 862C49.076 852 49.265 841.5 49.45 833C49.635 824.5 49.817 817.67 50 811C50.183 804.33 50.367 798.9 50.55 793C50.733 787.1 50.917 781.47 51.1 775.6C51.283 769.73 51.5 761.9 51.65 757.8C51.8 753.7 51.886 754.7 52 751C52.114 747.3 52.205 740.77 52.335 735.6C52.465 730.43 52.64 724.63 52.78 720C52.92 715.37 53.059 710.88 53.175 707.8C53.291 704.72 53.388 702.92 53.475 701.5C53.562 700.08 53.621 699.8 53.7 699.3C53.779 698.8 53.867 698.47 53.95 698.5C54.033 698.53 54.125 698.83 54.2 699.5C54.275 700.17 54.317 699.82 54.4 702.5C54.483 705.18 54.6 711.18 54.7 715.6C54.8 720.02 54.894 723.43 55 729C55.106 734.57 55.224 742 55.335 749C55.446 756 55.554 762.87 55.665 771C55.776 779.13 55.888 788.9 56 797.8C56.112 806.7 56.239 815.37 56.335 824.4C56.431 833.43 56.485 841.73 56.575 852C56.665 862.27 56.779 874.83 56.875 886C56.971 897.17 57.054 907.6 57.15 919C57.246 930.4 57.345 943.73 57.45 954.4C57.555 965.07 57.672 973.73 57.78 983C57.888 992.27 57.988 1001.43 58.1 1010C58.212 1018.57 58.337 1027.4 58.45 1034.4C58.563 1041.4 58.672 1046.8 58.78 1052C58.888 1057.2 58.972 1061.1 59.1 1065.6C59.228 1070.1 59.4 1075.3 59.55 1079C59.7 1082.7 59.833 1085.47 60 1087.8C60.167 1090.13 60.367 1091.63 60.55 1093C60.733 1094.37 60.914 1095.33 61.1 1096C61.286 1096.67 61.457 1096.83 61.665 1097C61.873 1097.17 62.211 1096.8 62.35 1097C62.489 1097.2 62.45 1098.2 62.5 1098.2C62.55 1098.2 62.525 1097.2 62.65 1097C62.775 1096.8 63.125 1096.7 63.25 1097C63.375 1097.3 63.35 1098.8 63.4 1098.8C63.45 1098.8 63.4 1097.3 63.55 1097C63.792 1096.7 64.608 1097 64.85 1097C65 1097 64.95 1097 65 1097C65.05 1097 65 1097 65.15 1097C65.483 1097.01 66.667 1096.75 67 1097.05C67.15 1097.36 67.1 1098.86 67.15 1098.86C67.2 1098.86 67.15 1097.35 67.3 1097.06C67.767 1096.78 69.483 1096.92 69.95 1097.13C70.1 1097.35 70.05 1098.34 70.1 1098.34C70.15 1098.34 70.1 1097.34 70.25 1097.14C70.408 1096.95 70.892 1096.91 71.05 1097.16C71.2 1097.42 71.15 1098.67 71.2 1098.67C71.25 1098.67 71.2 1097.42 71.35 1097.17C71.542 1096.93 71.929 1097.27 72.35 1097.2C72.771 1097.13 73.596 1097.16 73.875 1096.74C74.025 1096.32 73.975 1094.71 74.025 1094.69C74.075 1094.68 74.088 1096.34 74.175 1096.65C74.263 1096.96 74.463 1096.93 74.55 1096.54C74.638 1096.14 74.65 1094.31 74.7 1094.29C74.75 1094.28 74.8 1096.09 74.85 1096.45C74.9 1096.8 74.85 1096.54 75 1096.4C75.483 1096.26 77.267 1095.5 77.75 1095.63C77.9 1095.76 77.85 1097.2 77.9 1097.19C77.95 1097.17 77.9 1095.9 78.05 1095.55C78.367 1095.19 79.483 1094.89 79.8 1095.06C79.95 1095.22 79.917 1096.52 79.95 1096.51C79.983 1096.5 79.975 1095.25 80 1095C80.025 1094.75 80 1095.08 80.1 1094.98C80.713 1094.89 83.054 1094.86 83.675 1094.43C83.825 1094 83.775 1092.42 83.825 1092.41C83.875 1092.4 83.825 1094.12 83.975 1094.38C84.429 1094.65 86.096 1094.39 86.55 1093.99C86.7 1093.58 86.65 1091.97 86.7 1091.96C86.75 1091.95 86.783 1093.62 86.85 1093.94C86.917 1094.26 87.058 1093.91 87.1 1093.9"/>
<path class="c" transform="scale(1 20)" d="M234 11.6C234.5 11.542 235.83 11.325 237 11.25C238.17 11.175 239.67 11.092 241 11.15C242.33 11.208 243.83 11.392 245 11.6C246.17 11.808 247 12.042 248 12.4C249 12.758 248.75 12.708 251 13.75C253.25 14.792 257.83 16.775 261.5 18.65C265.17 20.525 270.42 23.525 273 25C275.58 26.475 274.83 26.392 277 27.5C279.17 28.608 283.5 30.4 286 31.65C288.5 32.9 290.17 34.025 292 35C293.83 35.975 295.33 36.758 297 37.5C298.67 38.242 300.38 38.958 302 39.45C303.62 39.942 305.2 40.192 306.7 40.45C308.2 40.708 309.15 40.875 311 41C312.85 41.125 315.97 41.07 317.8 41.2C319.63 41.33 320.13 41.647 322 41.78C323.87 41.913 327.17 41.872 329 42C330.83 42.128 331.17 42.402 333 42.55C334.83 42.698 337.72 42.873 340 42.89C342.28 42.907 344.48 42.707 346.7 42.65C348.92 42.593 351.08 42.528 353.3 42.55C355.52 42.572 357.77 42.613 360 42.78C362.23 42.947 364.48 43.365 366.7 43.55C368.92 43.735 371.08 43.665 373.3 43.89C375.52 44.115 377.77 44.548 380 44.9C382.23 45.252 384.48 45.642 386.7 46C388.92 46.358 391.08 46.708 393.3 47.05C395.52 47.392 398.15 47.817 400 48.05C401.85 48.283 402.18 48.325 404.4 48.45C406.62 48.575 410.37 48.708 413.3 48.8C416.23 48.892 419.05 48.93 422 49C424.95 49.07 428 49.195 431 49.22C434 49.245 437.38 49.095 440 49.15C442.62 49.205 444.37 49.5 446.7 49.55C449.03 49.6 451.45 49.417 454 49.45C456.55 49.483 458.03 49.695 462 49.75C465.97 49.805 473.68 49.738 477.8 49.78C481.92 49.822 484.12 49.907 486.7 50C489.28 50.093 491.08 50.243 493.3 50.335C495.52 50.427 497.77 50.403 500 50.55C502.23 50.698 504.48 51.015 506.7 51.22C508.92 51.425 511.08 51.575 513.3 51.78C515.52 51.985 517.77 52.283 520 52.45C522.23 52.617 524.1 52.68 526.7 52.78C529.3 52.88 532.65 52.967 535.6 53.05C538.55 53.133 541.83 53.232 544.4 53.28C546.97 53.328 548.77 53.373 551 53.335C553.23 53.297 555.18 53.124 557.8 53.05C560.42 52.976 563.73 52.957 566.7 52.89C569.67 52.823 572.65 52.707 575.6 52.65C578.55 52.593 581.45 52.642 584.4 52.55C587.35 52.458 590.7 52.155 593.3 52.1C595.9 52.045 597.77 52.2 600 52.22C602.23 52.24 604.1 52.157 606.7 52.22C609.3 52.283 613.05 52.528 615.6 52.6C618.15 52.672 619.43 52.575 622 52.65C624.57 52.725 628 52.917 631 53.05C634 53.183 637.38 53.328 640 53.45C642.62 53.572 644.1 53.707 646.7 53.78C649.3 53.853 652.65 53.845 655.6 53.89C658.55 53.935 661.45 54.007 664.4 54.05C667.35 54.093 670.37 54.136 673.3 54.15C676.23 54.164 678.28 54.16 682 54.135C685.72 54.11 690.77 54.014 695.6 54C700.43 53.986 705.82 54.05 711 54.05C716.18 54.05 721.13 54 726.7 54C732.27 54 737.73 54.025 744.4 54.05C751.07 54.075 760.77 54.126 766.7 54.15C772.63 54.174 774.08 54.193 780 54.195C785.92 54.198 795.9 54.174 802.2 54.165C808.5 54.156 813.17 54.177 817.8 54.14C822.43 54.103 825.93 54.005 830 53.945C834.07 53.885 837.93 53.863 842.2 53.78C846.47 53.697 851.15 53.575 855.6 53.445C860.05 53.315 864.83 53.158 868.9 53C872.97 52.843 876.3 52.676 880 52.5C883.7 52.324 887.77 52.121 891.1 51.945C894.43 51.769 897.22 51.612 900 51.445C902.78 51.278 905.4 51.112 907.8 50.945C910.2 50.778 912.32 50.611 914.4 50.445C916.48 50.279 915.3 50.413 920.3 49.95C925.3 49.487 938.33 48.323 944.4 47.665C950.47 47.007 953.37 46.444 956.7 46C960.03 45.556 962.73 45.225 964.4 45C966.07 44.775 964.47 44.967 966.7 44.65C968.93 44.333 974.08 43.6 977.8 43.1C981.52 42.6 985.3 42.075 989 41.65C992.7 41.225 996.33 40.883 1000 40.55C1003.67 40.217 1007.33 39.945 1011 39.65C1014.67 39.355 1018.33 39.073 1022 38.78C1025.67 38.487 1030 38.095 1033 37.89C1036 37.685 1037.72 37.735 1040 37.55C1042.28 37.365 1044.1 37.038 1046.7 36.78C1049.3 36.522 1052.8 36.232 1055.6 36C1058.4 35.768 1061.18 35.544 1063.5 35.39C1065.82 35.236 1067.75 35.146 1069.5 35.075C1071.25 35.004 1072.42 34.99 1074 34.965C1075.58 34.94 1077.33 34.923 1079 34.925C1080.67 34.927 1082.5 34.942 1084 34.975C1085.5 35.008 1086.33 34.991 1088 35.125C1089.67 35.259 1092 35.559 1094 35.78C1096 36.001 1097.88 36.172 1100 36.45C1102.12 36.728 1104.48 37.1 1106.7 37.45C1108.92 37.8 1111.08 38.143 1113.3 38.55C1115.52 38.957 1117.77 39.445 1120 39.89C1122.23 40.335 1124.78 40.768 1126.7 41.22C1128.62 41.672 1129.7 42.087 1131.5 42.6C1133.3 43.113 1135.58 43.742 1137.5 44.3C1139.42 44.858 1141.08 45.38 1143 45.95C1144.92 46.52 1146.9 47.187 1149 47.72C1151.1 48.253 1153.43 48.687 1155.6 49.15C1157.77 49.613 1159.77 50.072 1162 50.5C1164.23 50.928 1166.73 51.37 1169 51.72C1171.27 52.07 1173.43 52.34 1175.6 52.6C1177.77 52.86 1179.43 53.055 1182 53.28C1184.57 53.505 1188 53.765 1191 53.95C1194 54.135 1196.67 54.273 1200 54.39C1203.33 54.507 1207.33 54.582 1211 54.65C1214.67 54.718 1218.28 54.767 1222 54.8C1225.72 54.833 1229.13 54.842 1233.3 54.85C1237.47 54.858 1244.22 54.84 1247 54.85C1249.78 54.86 1249 54.91 1250 54.91C1251 54.91 1250.5 54.86 1253 54.85C1255.5 54.84 1262.5 54.835 1265 54.85C1267.5 54.865 1267 54.94 1268 54.94C1269 54.94 1268 54.865 1271 54.85C1275.83 54.835 1292.17 54.85 1297 54.85C1300 54.85 1299 54.85 1300 54.85C1301 54.85 1300 54.85 1303 54.85C1309.67 54.851 1333.33 54.837 1340 54.853C1343 54.868 1342 54.943 1343 54.943C1344 54.943 1343 54.867 1346 54.853C1355.33 54.839 1389.67 54.846 1399 54.857C1402 54.867 1401 54.917 1402 54.917C1403 54.917 1402 54.867 1405 54.857C1408.17 54.847 1417.83 54.846 1421 54.858C1424 54.871 1423 54.933 1424 54.933C1425 54.934 1424 54.871 1427 54.859C1430.83 54.846 1438.58 54.864 1447 54.86C1455.42 54.856 1471.92 54.858 1477.5 54.837C1480.5 54.816 1479.5 54.735 1480.5 54.735C1481.5 54.734 1481.75 54.817 1483.5 54.832C1485.25 54.848 1489.25 54.846 1491 54.827C1492.75 54.807 1493 54.715 1494 54.715C1495 54.714 1496 54.805 1497 54.822C1498 54.84 1497 54.827 1500 54.82C1509.67 54.813 1545.33 54.775 1555 54.782C1558 54.788 1557 54.86 1558 54.859C1559 54.859 1558 54.795 1561 54.777C1567.33 54.76 1589.67 54.745 1596 54.753C1599 54.761 1598.33 54.826 1599 54.826C1599.67 54.825 1599.5 54.763 1600 54.75C1600.5 54.737 1600 54.754 1602 54.749C1614.25 54.744 1661.08 54.743 1673.5 54.722C1676.5 54.7 1675.5 54.621 1676.5 54.62C1677.5 54.62 1676.5 54.706 1679.5 54.719C1688.58 54.732 1721.92 54.719 1731 54.699C1734 54.679 1733 54.598 1734 54.598C1735 54.598 1735.67 54.681 1737 54.697C1738.33 54.713 1741.17 54.695 1742 54.695"/>
</g>
<g stroke="#00008b">
<path class="c" transform="scale(20 1)" d="M11.7 233C11.717 235.83 11.767 245.83 11.8 250C11.833 254.17 11.858 258 11.9 258C11.942 258 12 252.67 12.05 250C12.1 247.33 12.15 242 12.2 242C12.25 242 12.3 244.5 12.35 250C12.4 255.5 12.392 254.5 12.5 275C12.608 295.5 12.825 335.5 13 373C13.175 410.5 13.425 470.5 13.55 500C13.675 529.5 13.65 527.83 13.75 550C13.85 572.17 14.034 608 14.15 633C14.266 658 14.34 679.57 14.445 700C14.55 720.43 14.671 737.1 14.78 755.6C14.889 774.1 14.989 796.6 15.1 811C15.211 825.4 15.351 835.67 15.445 842C15.539 848.33 15.572 846 15.665 849C15.758 852 15.888 855.2 16 860C16.112 864.8 16.227 874.3 16.335 877.8C16.443 881.3 16.558 880.8 16.65 881C16.743 881.2 16.776 878.05 16.89 879C17.004 879.95 17.206 883.93 17.335 886.7C17.464 889.47 17.567 892.72 17.665 895.6C17.763 898.48 17.832 899.6 17.925 904C18.018 908.4 18.116 916 18.22 922C18.324 928 18.438 934.4 18.55 940C18.662 945.6 18.778 949.3 18.89 955.6C19.002 961.9 19.091 971.13 19.22 977.8C19.349 984.47 19.518 989.73 19.665 995.6C19.812 1001.47 19.953 1009.3 20.1 1013C20.248 1016.7 20.418 1017.18 20.55 1017.8C20.682 1018.42 20.778 1015.6 20.89 1016.7C21.002 1017.8 21.091 1022.18 21.22 1024.4C21.349 1026.62 21.479 1028.13 21.665 1030C21.851 1031.87 22.149 1034.87 22.335 1035.6C22.521 1036.33 22.633 1033.5 22.78 1034.4C22.928 1035.3 23.073 1039.57 23.22 1041C23.367 1042.43 23.518 1042.05 23.665 1043C23.812 1043.95 23.953 1044.23 24.1 1046.7C24.248 1049.17 24.4 1054.65 24.55 1057.8C24.7 1060.95 24.85 1062.27 25 1065.6C25.15 1068.93 25.302 1074.1 25.45 1077.8C25.598 1081.5 25.742 1085.03 25.89 1087.8C26.038 1090.57 26.206 1093.53 26.335 1094.4C26.464 1095.27 26.554 1092.62 26.665 1093C26.776 1093.38 26.888 1097.03 27 1096.7C27.112 1096.37 27.205 1092.28 27.335 1091C27.465 1089.72 27.633 1090.1 27.78 1089C27.927 1087.9 28.073 1085.9 28.22 1084.4C28.367 1082.9 28.498 1080.73 28.665 1080C28.832 1079.27 29.064 1080.73 29.22 1080C29.376 1079.27 29.47 1075.6 29.6 1075.6C29.73 1075.6 29.858 1078.93 30 1080C30.142 1081.07 30.32 1080.5 30.45 1082C30.58 1083.5 30.672 1087.67 30.78 1089C30.888 1090.33 30.972 1088.53 31.1 1090C31.228 1091.47 31.4 1095.63 31.55 1097.8C31.7 1099.97 31.833 1101.9 32 1103C32.167 1104.1 32.367 1104.17 32.55 1104.4C32.733 1104.63 32.933 1103.63 33.1 1104.4C33.267 1105.17 33.363 1108.43 33.55 1109C33.737 1109.57 33.978 1107.97 34.22 1107.8C34.462 1107.63 34.795 1107.63 35 1108C35.205 1108.37 35.267 1110.22 35.45 1110C35.633 1109.78 35.878 1106.7 36.1 1106.7C36.322 1106.7 36.407 1109.45 36.78 1110C37.153 1110.55 37.965 1110.28 38.335 1110C38.705 1109.72 38.778 1109.03 39 1108.3C39.222 1107.57 39.433 1106.52 39.665 1105.6C39.897 1104.68 40.131 1103.73 40.39 1102.8C40.649 1101.87 40.988 1101.4 41.22 1100C41.452 1098.6 41.594 1096.25 41.78 1094.4C41.966 1092.55 42.15 1091.3 42.335 1088.9C42.52 1086.5 42.705 1083.15 42.89 1080C43.075 1076.85 43.26 1073.33 43.445 1070C43.63 1066.67 43.815 1063.52 44 1060C44.185 1056.48 44.37 1052.97 44.555 1048.9C44.74 1044.83 44.943 1040.05 45.11 1035.6C45.277 1031.15 45.416 1026.47 45.555 1022.2C45.694 1017.93 45.816 1013.87 45.945 1010C46.074 1006.13 46.066 1008.45 46.33 999C46.594 989.55 47.243 966.47 47.53 953.3C47.818 940.13 47.902 928.88 48.055 920C48.208 911.12 48.368 904.5 48.45 900C48.532 895.5 48.458 897.07 48.55 893C48.642 888.93 48.85 880.37 49 875.6C49.15 870.83 49.283 866.93 49.45 864.4C49.617 861.87 49.798 860.97 50 860.4C50.203 859.83 50.462 860.33 50.665 861C50.868 861.67 51.034 863.17 51.22 864.4C51.406 865.63 51.529 867.63 51.78 868.4C52.031 869.17 52.505 868.23 52.725 869C52.945 869.77 52.963 870.83 53.1 873C53.238 875.17 53.437 879.53 53.55 882C53.663 884.47 53.705 885.97 53.78 887.8C53.855 889.63 53.908 889.63 54 893C54.093 896.37 54.243 903.83 54.335 908C54.427 912.17 54.476 913.6 54.55 918C54.624 922.4 54.668 927.57 54.78 934.4C54.892 941.23 55.073 950.9 55.22 959C55.368 967.1 55.518 974.87 55.665 983C55.812 991.13 55.953 999.97 56.1 1007.8C56.248 1015.63 56.4 1022.97 56.55 1030C56.7 1037.03 56.85 1043.7 57 1050C57.15 1056.3 57.302 1062.3 57.45 1067.8C57.598 1073.3 57.742 1078.57 57.89 1083C58.038 1087.43 58.187 1091.07 58.335 1094.4C58.483 1097.73 58.632 1100.77 58.78 1103C58.928 1105.23 59.053 1106.47 59.22 1107.8C59.387 1109.13 59.575 1109.9 59.78 1111C59.985 1112.1 60.265 1113.83 60.45 1114.4C60.635 1114.97 60.771 1113.63 60.89 1114.4C61.009 1115.17 61.072 1119 61.165 1119C61.258 1119 61.348 1114.6 61.45 1114.4C61.553 1114.2 61.672 1117.8 61.78 1117.8C61.888 1117.8 61.988 1114.4 62.1 1114.4C62.212 1114.4 62.318 1117.6 62.45 1117.8C62.582 1118 62.742 1115.6 62.89 1115.6C63.038 1115.6 63.187 1118 63.335 1117.8C63.483 1117.6 63.653 1114.97 63.78 1114.4C63.907 1113.83 64.022 1114.1 64.1 1114.4C64.178 1114.7 64.2 1116.2 64.25 1116.2C64.3 1116.2 64.275 1114.7 64.4 1114.4C64.525 1114.1 64.7 1114.41 65 1114.4C65.3 1114.39 65.975 1114.04 66.2 1114.33C66.35 1114.62 66.3 1116.13 66.35 1116.12C66.4 1116.12 66.35 1114.66 66.5 1114.31C67.258 1113.97 70.142 1113.81 70.9 1114.06C71.05 1114.32 71 1115.86 71.05 1115.85C71.1 1115.85 71.067 1114.35 71.2 1114.05C71.333 1113.74 71.717 1114.02 71.85 1114.01C71.983 1114 71.95 1114.08 72 1114C72.05 1113.92 72.05 1113.83 72.15 1113.5C72.25 1113.17 72.15 1112.37 72.6 1112C73.075 1111.63 74.337 1111.54 75 1111.3C75.663 1111.06 76.292 1110.41 76.58 1110.57C76.73 1110.74 76.68 1112.33 76.73 1112.3C76.78 1112.28 76.73 1110.81 76.88 1110.44C77.033 1110.06 77.497 1109.82 77.65 1110.08C77.8 1110.34 77.75 1112.03 77.8 1112.01C77.85 1111.99 77.8 1110.44 77.95 1109.94C78.317 1109.44 79.383 1109.27 80 1109C80.617 1108.73 81.35 1108.16 81.65 1108.34C81.8 1108.52 81.75 1110.1 81.8 1110.08C81.85 1110.06 81.85 1108.56 81.95 1108.22C82.05 1107.88 82.3 1107.75 82.4 1108.04C82.5 1108.33 82.5 1110 82.55 1109.98C82.6 1109.96 82.55 1108.42 82.7 1107.92C83.108 1107.42 84.342 1107.32 85 1107C85.658 1106.68 86.333 1106.5 86.65 1106C86.9 1105.5 86.817 1104.58 86.9 1104C86.983 1103.42 87.108 1102.75 87.15 1102.5"/>
<path class="c" transform="scale(1 20)" d="M234 11.65C234.33 11.792 235.33 12.292 236 12.5C236.67 12.708 237.17 12.9 238 12.9C238.83 12.9 240 12.633 241 12.5C242 12.367 243 12.1 244 12.1C245 12.1 246 12.225 247 12.5C248 12.775 247.83 12.725 250 13.75C252.17 14.775 256.5 16.775 260 18.65C263.5 20.525 268.5 23.525 271 25C273.5 26.475 273 26.392 275 27.5C277 28.608 280.68 30.4 283 31.65C285.32 32.9 286.8 33.978 288.9 35C291 36.022 293.42 36.855 295.6 37.78C297.78 38.705 299.78 39.83 302 40.55C304.22 41.27 307.02 41.783 308.9 42.1C310.78 42.417 311.45 42.3 313.3 42.45C315.15 42.6 317.77 42.76 320 43C322.23 43.24 324.53 43.715 326.7 43.89C328.87 44.065 331.15 44.04 333 44.05C334.85 44.06 335.52 43.903 337.8 43.95C340.08 43.998 344.12 44.197 346.7 44.335C349.28 44.473 351.33 44.636 353.3 44.78C355.27 44.924 356.65 44.98 358.5 45.2C360.35 45.42 362.32 45.8 364.4 46.1C366.48 46.4 368.77 46.72 371 47C373.23 47.28 375.57 47.465 377.8 47.78C380.03 48.095 381.82 48.557 384.4 48.89C386.98 49.223 390.37 49.487 393.3 49.78C396.23 50.073 399.05 50.465 402 50.65C404.95 50.835 408.37 50.859 411 50.89C413.63 50.921 415.57 50.78 417.8 50.835C420.03 50.89 421.82 51.109 424.4 51.22C426.98 51.331 429.58 51.407 433.3 51.5C437.02 51.593 442.98 51.743 446.7 51.78C450.42 51.817 452.65 51.675 455.6 51.72C458.55 51.765 461.45 51.978 464.4 52.05C467.35 52.122 470.37 52.102 473.3 52.15C476.23 52.198 479.05 52.212 482 52.335C484.95 52.458 488 52.733 491 52.89C494 53.047 497 53.113 500 53.28C503 53.447 506.03 53.705 509 53.89C511.97 54.075 514.85 54.252 517.8 54.39C520.75 54.528 524.12 54.677 526.7 54.72C529.28 54.763 531.08 54.631 533.3 54.65C535.52 54.669 537.77 54.852 540 54.835C542.23 54.818 544.1 54.614 546.7 54.55C549.3 54.486 552.65 54.505 555.6 54.45C558.55 54.395 561.45 54.295 564.4 54.22C567.35 54.145 569.97 54.037 573.3 54C576.63 53.963 581.28 54.037 584.4 54C587.52 53.963 589.4 53.78 592 53.78C594.6 53.78 597.17 53.947 600 54C602.83 54.053 606.4 54.025 609 54.1C611.6 54.175 613.43 54.383 615.6 54.45C617.77 54.517 619.43 54.427 622 54.5C624.57 54.573 628 54.782 631 54.89C634 54.998 636.67 55.095 640 55.15C643.33 55.205 647.33 55.208 651 55.22C654.67 55.232 658.67 55.182 662 55.22C665.33 55.258 667.27 55.422 671 55.45C674.73 55.478 679.57 55.398 684.4 55.39C689.23 55.382 695.9 55.382 700 55.4C704.1 55.418 705.33 55.511 709 55.5C712.67 55.489 717.57 55.335 722 55.335C726.43 55.335 728.15 55.473 735.6 55.5C743.05 55.528 759.3 55.514 766.7 55.5C774.1 55.486 775.57 55.452 780 55.415C784.43 55.378 788.67 55.326 793.3 55.28C797.93 55.234 802.62 55.187 807.8 55.14C812.98 55.093 819.77 55.07 824.4 55C829.03 54.93 831.88 54.812 835.6 54.72C839.32 54.628 843 54.565 846.7 54.445C850.4 54.325 854.1 54.158 857.8 54C861.5 53.843 865.2 53.667 868.9 53.5C872.6 53.333 876.3 53.176 880 53C883.7 52.824 887.4 52.648 891.1 52.445C894.8 52.242 898.87 52.002 902.2 51.78C905.53 51.557 908.32 51.323 911.1 51.11C913.88 50.897 916.32 50.693 918.9 50.5C921.48 50.307 921.32 50.423 926.6 49.95C931.88 49.477 944.85 48.323 950.6 47.665C956.35 47.007 958.03 46.444 961.1 46C964.17 45.556 967.35 45.225 969 45C970.65 44.775 969.17 44.853 971 44.65C972.83 44.447 977 44.018 980 43.78C983 43.542 985.67 43.347 989 43.22C992.33 43.093 995.95 43.048 1000 43.02C1004.05 42.992 1009.23 43.017 1013.3 43.05C1017.37 43.083 1020.68 43.158 1024.4 43.22C1028.12 43.282 1030.58 43.382 1035.6 43.42C1040.62 43.458 1050.1 43.412 1054.5 43.45C1058.9 43.488 1059.25 43.542 1062 43.65C1064.75 43.758 1068.73 43.977 1071 44.1C1073.27 44.223 1074.1 44.298 1075.6 44.39C1077.1 44.482 1078.15 44.482 1080 44.65C1081.85 44.818 1084.87 45.192 1086.7 45.4C1088.53 45.608 1089.52 45.68 1091 45.9C1092.48 46.12 1093.37 46.378 1095.6 46.72C1097.83 47.062 1101.45 47.545 1104.4 47.95C1107.35 48.355 1110.37 48.743 1113.3 49.15C1116.23 49.557 1119.05 49.998 1122 50.39C1124.95 50.782 1128 51.148 1131 51.5C1134 51.852 1137 52.185 1140 52.5C1143 52.815 1146.03 53.115 1149 53.39C1151.97 53.665 1154.85 53.928 1157.8 54.15C1160.75 54.372 1163.73 54.553 1166.7 54.72C1169.67 54.887 1172.65 55.038 1175.6 55.15C1178.55 55.262 1181.07 55.323 1184.4 55.39C1187.73 55.457 1191.5 55.495 1195.6 55.55C1199.7 55.605 1205.3 55.692 1209 55.72C1212.7 55.748 1215.42 55.682 1217.8 55.72C1220.18 55.758 1221.43 55.95 1223.3 55.95C1225.17 55.95 1226.95 55.73 1229 55.72C1231.05 55.71 1233.43 55.89 1235.6 55.89C1237.77 55.89 1239.77 55.72 1242 55.72C1244.23 55.72 1246.37 55.88 1249 55.89C1251.63 55.9 1254.85 55.78 1257.8 55.78C1260.75 55.78 1263.73 55.9 1266.7 55.89C1269.67 55.88 1273.05 55.748 1275.6 55.72C1278.15 55.692 1280.43 55.705 1282 55.72C1283.57 55.735 1284 55.81 1285 55.81C1286 55.81 1285.5 55.735 1288 55.72C1290.5 55.705 1294 55.721 1300 55.72C1306 55.719 1319.5 55.702 1324 55.717C1327 55.731 1326 55.806 1327 55.806C1328 55.806 1327 55.733 1330 55.716C1345.17 55.699 1402.83 55.69 1418 55.703C1421 55.716 1420 55.793 1421 55.793C1422 55.793 1421.33 55.718 1424 55.702C1426.67 55.687 1434.33 55.701 1437 55.7C1439.67 55.7 1439 55.704 1440 55.7C1441 55.696 1441 55.692 1443 55.675C1445 55.658 1443 55.618 1452 55.6C1461.5 55.582 1486.73 55.577 1500 55.565C1513.27 55.553 1525.83 55.52 1531.6 55.529C1534.6 55.537 1533.6 55.616 1534.6 55.615C1535.6 55.614 1534.6 55.54 1537.6 55.522C1540.67 55.503 1549.93 55.491 1553 55.504C1556 55.517 1555 55.602 1556 55.601C1557 55.599 1556 55.522 1559 55.497C1566.33 55.472 1587.67 55.463 1600 55.45C1612.33 55.437 1627 55.408 1633 55.417C1636 55.426 1635 55.505 1636 55.504C1637 55.503 1637 55.428 1639 55.411C1641 55.394 1646 55.387 1648 55.402C1650 55.417 1650 55.5 1651 55.499C1652 55.498 1651 55.421 1654 55.396C1662.17 55.371 1686.83 55.366 1700 55.35C1713.17 55.334 1726.67 55.325 1733 55.3C1738 55.275 1736.33 55.229 1738 55.2C1739.67 55.171 1742.17 55.138 1743 55.125"/>
</g>
</g>
<text class="tick" transform="translate(197.3 1095.0) scale(1 1.03)" text-anchor="end">0.0</text>
<text class="tick" transform="translate(197.3 836.3) scale(1 1.03)" text-anchor="end">0.1</text>
<text class="tick" transform="translate(197.3 577.6) scale(1 1.03)" text-anchor="end">0.2</text>
<text class="tick" transform="translate(197.3 319.0) scale(1 1.03)" text-anchor="end">0.3</text>
<text class="tick" transform="translate(197.3 60.3) scale(1 1.03)" text-anchor="end">0.4</text>
<text class="tick" transform="translate(234.0 1240.4) scale(1 1.03)" text-anchor="middle">200</text>
<text class="tick" transform="translate(485.4 1240.4) scale(1 1.03)" text-anchor="middle">300</text>
<text class="tick" transform="translate(736.7 1240.4) scale(1 1.03)" text-anchor="middle">400</text>
<text class="tick" transform="translate(988.1 1240.4) scale(1 1.03)" text-anchor="middle">500</text>
<text class="tick" transform="translate(1239.5 1240.4) scale(1 1.03)" text-anchor="middle">600</text>
<text class="tick" transform="translate(1490.8 1240.4) scale(1 1.03)" text-anchor="middle">700</text>
<text class="tick" transform="translate(1742.2 1240.4) scale(1 1.03)" text-anchor="middle">800</text>
<text class="title" x="747.8" y="1316.4">Wavelength</text>
<text class="paren" font-size="54.8" transform="translate(1110.1 1312.4) scale(1.247 1)">（</text>
<text class="title" x="1183.3" y="1316.4">nm</text>
<text class="paren" font-size="54.8" transform="translate(1288.4 1312.4) scale(1.247 1)">）</text>
<text class="vtitle" transform="translate(82.9 795) rotate(-90) scale(1 1.03)">Abs</text>
<text class="paren" font-size="57.2" transform="translate(79.0 673.7) rotate(-90) scale(1.22 1)">（</text>
<text class="vtitle" transform="translate(82.9 599.2) rotate(-90) scale(1 1.03)">a.u.</text>
<text class="paren" font-size="57.2" transform="translate(79.0 477.6) rotate(-90) scale(1.22 1)">）</text>
<line x1="752.4" y1="216.5" x2="752.4" y2="805" stroke="#000" stroke-width="4.7" stroke-linecap="round"/>
<path d="M743.2 800.2 H761.6 L753.1 830.8 Q752.4 831.6 751.7 830.8 Z" fill="#000"/>
<text class="leg" x="791" y="251">0min</text>
<text class="leg" x="781" y="333.3">10min</text>
<text class="leg" x="784.5" y="427.8">20min</text>
<text class="leg" x="775.5" y="512.2">30min</text>
<text class="leg" x="779" y="593.8">40min</text>
<text class="leg" x="782" y="694.4">50min</text>
<text class="leg" x="776" y="782.2">60min</text>
</svg>
</body>
</html>
